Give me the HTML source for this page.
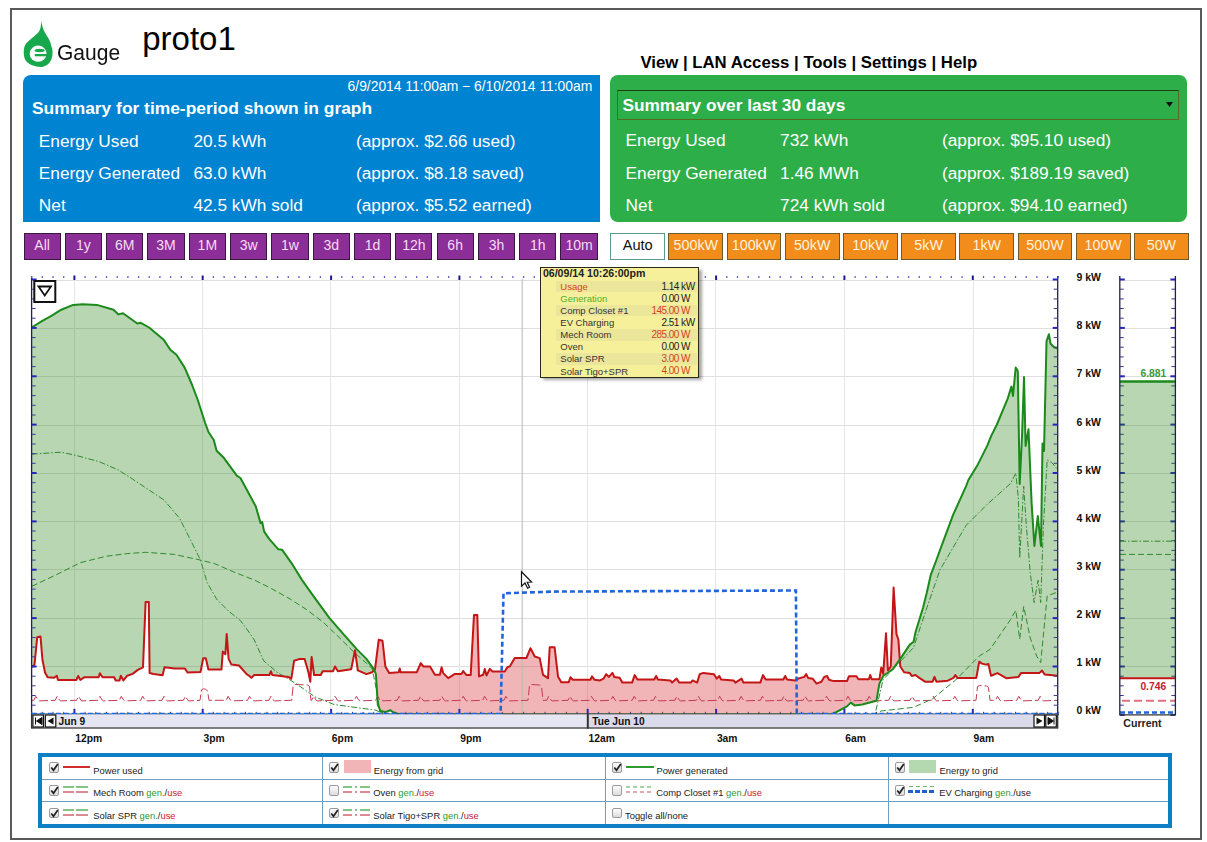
<!DOCTYPE html><html><head><meta charset="utf-8"><style>
html,body{margin:0;padding:0;background:#fff;width:1207px;height:842px;overflow:hidden;position:relative;font-family:"Liberation Sans",sans-serif}
.t{position:absolute;white-space:pre;line-height:1}
.a{position:absolute}
.pb{position:absolute;top:233px;height:26.6px;width:37.3px;background:#8b2e98;box-sizing:border-box;border:1px solid #3a1840;color:#f7dcf5;font-size:14px;text-align:center;line-height:23px}
.ob{position:absolute;top:233px;height:26.6px;width:54.8px;background:#f28d1c;box-sizing:border-box;border:1px solid #6f5a2c;color:#fff3dc;font-size:14.3px;text-align:center;line-height:23px}
</style></head><body>
<div class="a" style="left:10px;top:8px;width:1187.6px;height:828.3px;border:2px solid #5a5a5a"></div>
<svg class="a" style="left:0;top:0" width="130" height="75">
<path d="M41.3,20.4 C42,25 42.8,28 43.7,29.9 C45,33 46.5,35 47.8,37.3 C49.5,40 50.6,42.5 51.2,45.4 C52.3,48.5 52.7,50.5 52.5,52.9 C52.4,55.5 52.2,57 51.5,59 C50.7,61 49.8,62.5 48.4,63.7 C46.8,65.2 45.3,65.9 43.7,66.4 C42,66.9 40,67 38.3,66.8 C35.5,66.6 33.5,66 31.5,65.1 C29.3,64 27.4,62.7 26.1,61 C24.6,58.9 24,56.8 23.8,54.2 C23.6,51.5 23.8,49 24.4,46.8 C25.2,44.5 26.5,42.8 28.1,41.4 C30,39.6 31.8,38.2 33.6,36.7 C35.3,35.4 37,34 38.3,32.6 C39.3,31.3 39.9,30 40.3,28.5 C40.9,26 41.1,23.5 41.3,20.4 Z" fill="#17a84c"/>
<ellipse cx="38.1" cy="53.7" rx="8.4" ry="8.1" fill="#fff"/>
<ellipse cx="39.6" cy="50.5" rx="5" ry="1.7" fill="#17a84c"/>
<rect x="34.8" y="54" width="12.5" height="2.3" fill="#17a84c"/>
</svg>
<div class="t" style="left:56.5px;top:42.38px;font-size:22px;font-weight:400;color:#111;transform:scaleX(0.955);transform-origin:0 0">Gauge</div>
<div class="t" style="left:142.2px;top:22.17px;font-size:33px;font-weight:400;color:#000;">proto1</div>
<div class="t" style="left:640.4px;top:55.42px;font-size:16.75px;font-weight:700;color:#000;">View | LAN Access | Tools | Settings | Help</div>
<div class="a" style="left:23.4px;top:75.2px;width:576.6px;height:146.5px;background:#0083d1;border-top-left-radius:8px"></div>
<div class="t" style="left:347.6px;top:80.08px;font-size:13.85px;font-weight:400;color:#fff;">6/9/2014 11:00am − 6/10/2014 11:00am</div>
<div class="t" style="left:32px;top:100.27px;font-size:17.4px;font-weight:700;color:#fff;">Summary for time-period shown in graph</div>
<div class="t" style="left:38.8px;top:132.66px;font-size:17.3px;font-weight:400;color:#fff;">Energy Used</div>
<div class="t" style="left:193.4px;top:132.66px;font-size:17.3px;font-weight:400;color:#fff;">20.5 kWh</div>
<div class="t" style="left:356px;top:132.66px;font-size:17.3px;font-weight:400;color:#fff;">(approx. $2.66 used)</div>
<div class="t" style="left:38.8px;top:164.91px;font-size:17.3px;font-weight:400;color:#fff;">Energy Generated</div>
<div class="t" style="left:193.4px;top:164.91px;font-size:17.3px;font-weight:400;color:#fff;">63.0 kWh</div>
<div class="t" style="left:356px;top:164.91px;font-size:17.3px;font-weight:400;color:#fff;">(approx. $8.18 saved)</div>
<div class="t" style="left:38.8px;top:197.16px;font-size:17.3px;font-weight:400;color:#fff;">Net</div>
<div class="t" style="left:193.4px;top:197.16px;font-size:17.3px;font-weight:400;color:#fff;">42.5 kWh sold</div>
<div class="t" style="left:356px;top:197.16px;font-size:17.3px;font-weight:400;color:#fff;">(approx. $5.52 earned)</div>
<div class="a" style="left:610.2px;top:75px;width:576.6px;height:146.7px;background:#2eae48;border-radius:8px"></div>
<div class="a" style="left:617px;top:90.4px;width:562px;height:29.6px;box-sizing:border-box;border:1px solid #5a6a20;border-top-color:#1d3d10;border-left-color:#6a5a20"></div>
<div class="t" style="left:622.4px;top:96.56px;font-size:17.3px;font-weight:700;color:#fff;">Summary over last 30 days</div>
<svg class="a" style="left:1165px;top:100px" width="10" height="10"><path d="M1,2 L8,2 L4.5,7 Z" fill="#111"/></svg>
<div class="t" style="left:625.6px;top:132.36px;font-size:17.3px;font-weight:400;color:#fff;">Energy Used</div>
<div class="t" style="left:780.1px;top:132.36px;font-size:17.3px;font-weight:400;color:#fff;">732 kWh</div>
<div class="t" style="left:942px;top:132.36px;font-size:17.3px;font-weight:400;color:#fff;">(approx. $95.10 used)</div>
<div class="t" style="left:625.6px;top:164.66px;font-size:17.3px;font-weight:400;color:#fff;">Energy Generated</div>
<div class="t" style="left:780.1px;top:164.66px;font-size:17.3px;font-weight:400;color:#fff;">1.46 MWh</div>
<div class="t" style="left:942px;top:164.66px;font-size:17.3px;font-weight:400;color:#fff;">(approx. $189.19 saved)</div>
<div class="t" style="left:625.6px;top:196.96px;font-size:17.3px;font-weight:400;color:#fff;">Net</div>
<div class="t" style="left:780.1px;top:196.96px;font-size:17.3px;font-weight:400;color:#fff;">724 kWh sold</div>
<div class="t" style="left:942px;top:196.96px;font-size:17.3px;font-weight:400;color:#fff;">(approx. $94.10 earned)</div>
<div class="pb" style="left:23.5px">All</div>
<div class="pb" style="left:64.8px">1y</div>
<div class="pb" style="left:106.1px">6M</div>
<div class="pb" style="left:147.4px">3M</div>
<div class="pb" style="left:188.7px">1M</div>
<div class="pb" style="left:230.0px">3w</div>
<div class="pb" style="left:271.3px">1w</div>
<div class="pb" style="left:312.6px">3d</div>
<div class="pb" style="left:353.9px">1d</div>
<div class="pb" style="left:395.2px">12h</div>
<div class="pb" style="left:436.5px">6h</div>
<div class="pb" style="left:477.8px">3h</div>
<div class="pb" style="left:519.1px">1h</div>
<div class="pb" style="left:560.4px">10m</div>
<div class="a" style="left:610.4px;top:233px;width:54.6px;height:26.6px;box-sizing:border-box;border:1px solid #5c9a8c;background:#fff;color:#111;font-size:14.6px;text-align:center;line-height:23px">Auto</div>
<div class="ob" style="left:668.4px">500kW</div>
<div class="ob" style="left:726.6px">100kW</div>
<div class="ob" style="left:784.8px">50kW</div>
<div class="ob" style="left:843.0px">10kW</div>
<div class="ob" style="left:901.2px">5kW</div>
<div class="ob" style="left:959.4px">1kW</div>
<div class="ob" style="left:1017.6px">500W</div>
<div class="ob" style="left:1075.8px">100W</div>
<div class="ob" style="left:1134.0px">50W</div>
<svg width="1207" height="842" style="position:absolute;left:0;top:0">
<defs>
<clipPath id="aU"><path d="M31.8,667.3 L34.5,664.7 L37.2,637.3 L40.5,636.5 L42.4,659.5 L45.0,672.5 L47.6,677.3 L54.1,677.8 L56.8,675.7 L58.0,679.9 L76.4,679.9 L78.2,676.0 L80.3,679.9 L84.2,677.3 L98.6,677.3 L99.9,673.3 L102.5,677.3 L114.3,677.3 L115.6,680.4 L119.5,680.4 L120.8,675.7 L123.4,680.4 L127.3,675.7 L132.6,673.9 L137.8,669.9 L143.0,667.3 L145.6,602.0 L148.8,602.0 L149.6,673.1 L153.5,673.9 L162.6,675.2 L164.5,667.3 L174.4,668.6 L184.9,668.6 L187.5,672.5 L200.5,672.0 L203.2,658.2 L205.8,658.2 L208.4,669.4 L221.5,669.4 L222.8,651.6 L225.4,654.2 L226.7,634.1 L228.6,658.9 L231.4,664.6 L239.0,665.5 L246.6,674.1 L249.5,676.0 L251.4,677.9 L254.2,675.0 L269.4,675.0 L271.0,671.2 L272.3,675.0 L288.4,676.9 L291.3,678.8 L294.1,660.8 L299.8,658.9 L304.6,658.9 L308.4,672.2 L310.3,681.7 L311.6,657.0 L314.1,675.0 L320.8,675.0 L322.7,671.2 L333.1,671.2 L335.0,666.5 L337.9,671.2 L351.2,669.3 L355.0,650.3 L357.8,670.3 L366.4,674.1 L372.1,672.2 L375.0,669.3 L378.7,639.8 L382.5,640.8 L385.4,666.5 L389.2,673.1 L398.7,672.2 L399.7,668.4 L400.6,672.2 L410.0,672.3 L416.7,672.3 L420.8,663.1 L423.3,666.4 L430.0,666.4 L434.9,674.8 L439.9,674.8 L441.6,667.3 L443.2,673.1 L448.2,678.1 L454.9,673.9 L461.5,673.9 L463.2,671.1 L466.5,675.1 L470.7,675.1 L474.0,614.9 L477.3,614.9 L479.0,676.4 L483.2,674.8 L484.8,668.9 L486.5,675.6 L489.8,668.9 L492.3,671.4 L504.8,671.4 L507.3,667.3 L509.8,666.4 L514.7,658.1 L526.4,658.1 L530.5,648.2 L534.7,656.5 L539.7,658.1 L543.0,674.8 L548.0,678.1 L549.7,647.3 L554.6,647.3 L558.0,676.4 L561.3,682.2 L568.8,682.2 L570.4,677.3 L572.9,679.8 L590.4,679.8 L592.0,676.4 L594.5,679.8 L600.0,680.4 L603.6,678.6 L606.2,674.2 L608.9,676.9 L612.5,672.9 L614.2,676.9 L619.6,677.7 L622.3,682.6 L632.1,682.6 L634.7,675.1 L637.4,679.5 L654.3,679.5 L656.1,676.0 L657.9,679.5 L670.3,680.4 L672.1,682.6 L676.6,678.6 L679.3,682.6 L690.8,682.6 L692.6,680.4 L697.1,682.6 L699.7,674.2 L703.3,672.9 L714.0,674.2 L716.7,678.6 L719.3,676.0 L721.1,679.5 L733.6,680.4 L735.4,682.6 L741.6,678.6 L743.4,682.6 L760.3,682.6 L763.0,675.1 L765.6,679.5 L783.4,679.5 L785.2,676.0 L787.0,679.5 L795.0,680.4 L797.6,678.8 L804.3,676.9 L806.2,674.1 L808.1,677.9 L812.8,678.8 L816.6,683.6 L821.4,681.7 L824.2,676.9 L827.1,676.0 L829.0,679.8 L833.7,681.1 L847.0,681.1 L848.9,676.3 L856.5,676.3 L858.4,679.2 L868.9,679.2 L870.2,675.0 L871.7,679.2 L879.4,679.2 L881.3,667.4 L883.2,674.1 L886.0,633.2 L887.9,670.3 L890.8,666.5 L893.6,587.6 L896.5,634.1 L898.4,639.8 L900.3,666.5 L904.1,672.2 L909.8,673.1 L911.7,676.0 L915.5,675.0 L919.3,677.9 L925.0,681.7 L932.6,681.7 L934.5,676.9 L936.4,681.7 L947.8,680.7 L953.5,677.9 L955.4,675.0 L957.3,677.9 L976.3,677.9 L979.2,661.7 L982.0,663.6 L985.8,664.6 L988.4,663.9 L991.0,675.7 L997.5,673.1 L1006.7,678.3 L1018.4,677.0 L1021.0,673.1 L1039.3,673.1 L1042.0,670.5 L1044.6,674.4 L1057.7,675.7 L1057.7,270 L31.6,270 Z"/></clipPath>
<clipPath id="aG"><path d="M31.6,327.5 L42.3,320.9 L51.8,315.6 L61.3,309.7 L73.1,304.9 L82.6,304.2 L96.9,304.9 L113.5,309.7 L118.3,314.4 L123.0,313.3 L137.3,323.5 L140.8,322.8 L149.1,327.5 L163.4,339.4 L170.5,350.0 L176.5,354.8 L184.8,367.9 L191.9,384.5 L197.8,400.0 L205.0,422.5 L208.5,432.0 L213.8,440.0 L216.6,450.7 L223.8,457.8 L236.8,475.6 L240.4,478.0 L247.5,491.0 L255.8,506.5 L260.6,523.1 L262.2,522.0 L264.1,531.4 L268.9,538.6 L278.4,549.3 L282.0,549.7 L292.6,564.7 L302.1,580.1 L314.0,596.8 L329.5,618.1 L341.7,632.2 L356.9,649.4 L366.4,658.9 L374.0,669.3 L375.9,674.1 L377.8,704.5 L380.6,711.1 L385.4,712.1 L390.2,710.2 L393.0,712.1 L400.0,714.5 L419.6,714.5 L831.8,714.5 L847.0,706.4 L850.8,702.6 L854.6,705.4 L862.2,704.5 L876.5,700.7 L879.4,683.6 L883.2,676.0 L892.7,669.3 L900.3,658.9 L909.8,644.6 L913.6,641.7 L915.5,632.2 L923.1,607.5 L926.9,592.3 L930.7,575.2 L936.4,560.0 L940.0,550.2 L953.1,514.9 L966.1,486.1 L968.4,480.0 L977.9,464.4 L987.4,445.4 L991.2,435.9 L996.9,424.5 L1007.8,398.4 L1011.4,386.5 L1013.0,396.0 L1015.7,367.5 L1017.8,371.1 L1019.7,483.9 L1022.1,434.0 L1024.0,377.0 L1025.6,445.9 L1028.5,429.3 L1031.6,502.9 L1034.4,546.0 L1037.8,516.0 L1041.0,546.0 L1042.5,443.5 L1044.0,451.1 L1046.5,341.4 L1048.9,334.3 L1050.6,343.8 L1054.1,347.3 L1057.7,348.5 L1057.7,270 L31.6,270 Z"/></clipPath>
</defs>
<line x1="32" y1="666.5" x2="1057" y2="666.5" stroke="#dfdfdf" stroke-width="1"/>
<line x1="1120" y1="666.5" x2="1175" y2="666.5" stroke="#dfdfdf" stroke-width="1"/>
<line x1="32" y1="618.5" x2="1057" y2="618.5" stroke="#dfdfdf" stroke-width="1"/>
<line x1="1120" y1="618.5" x2="1175" y2="618.5" stroke="#dfdfdf" stroke-width="1"/>
<line x1="32" y1="569.5" x2="1057" y2="569.5" stroke="#dfdfdf" stroke-width="1"/>
<line x1="1120" y1="569.5" x2="1175" y2="569.5" stroke="#dfdfdf" stroke-width="1"/>
<line x1="32" y1="521.5" x2="1057" y2="521.5" stroke="#dfdfdf" stroke-width="1"/>
<line x1="1120" y1="521.5" x2="1175" y2="521.5" stroke="#dfdfdf" stroke-width="1"/>
<line x1="32" y1="473.5" x2="1057" y2="473.5" stroke="#dfdfdf" stroke-width="1"/>
<line x1="1120" y1="473.5" x2="1175" y2="473.5" stroke="#dfdfdf" stroke-width="1"/>
<line x1="32" y1="425.5" x2="1057" y2="425.5" stroke="#dfdfdf" stroke-width="1"/>
<line x1="1120" y1="425.5" x2="1175" y2="425.5" stroke="#dfdfdf" stroke-width="1"/>
<line x1="32" y1="376.5" x2="1057" y2="376.5" stroke="#dfdfdf" stroke-width="1"/>
<line x1="1120" y1="376.5" x2="1175" y2="376.5" stroke="#dfdfdf" stroke-width="1"/>
<line x1="32" y1="328.5" x2="1057" y2="328.5" stroke="#dfdfdf" stroke-width="1"/>
<line x1="1120" y1="328.5" x2="1175" y2="328.5" stroke="#dfdfdf" stroke-width="1"/>
<line x1="32" y1="280.5" x2="1057" y2="280.5" stroke="#dfdfdf" stroke-width="1"/>
<line x1="1120" y1="280.5" x2="1175" y2="280.5" stroke="#dfdfdf" stroke-width="1"/>
<line x1="74.5" y1="279" x2="74.5" y2="714.85" stroke="#e6e6e6" stroke-width="1"/>
<line x1="202.5" y1="279" x2="202.5" y2="714.85" stroke="#e6e6e6" stroke-width="1"/>
<line x1="330.5" y1="279" x2="330.5" y2="714.85" stroke="#e6e6e6" stroke-width="1"/>
<line x1="459.5" y1="279" x2="459.5" y2="714.85" stroke="#e6e6e6" stroke-width="1"/>
<line x1="587.5" y1="279" x2="587.5" y2="714.85" stroke="#e6e6e6" stroke-width="1"/>
<line x1="715.5" y1="279" x2="715.5" y2="714.85" stroke="#e6e6e6" stroke-width="1"/>
<line x1="844.5" y1="279" x2="844.5" y2="714.85" stroke="#e6e6e6" stroke-width="1"/>
<line x1="973.5" y1="279" x2="973.5" y2="714.85" stroke="#e6e6e6" stroke-width="1"/>
<path d="M31.6,327.5 L42.3,320.9 L51.8,315.6 L61.3,309.7 L73.1,304.9 L82.6,304.2 L96.9,304.9 L113.5,309.7 L118.3,314.4 L123.0,313.3 L137.3,323.5 L140.8,322.8 L149.1,327.5 L163.4,339.4 L170.5,350.0 L176.5,354.8 L184.8,367.9 L191.9,384.5 L197.8,400.0 L205.0,422.5 L208.5,432.0 L213.8,440.0 L216.6,450.7 L223.8,457.8 L236.8,475.6 L240.4,478.0 L247.5,491.0 L255.8,506.5 L260.6,523.1 L262.2,522.0 L264.1,531.4 L268.9,538.6 L278.4,549.3 L282.0,549.7 L292.6,564.7 L302.1,580.1 L314.0,596.8 L329.5,618.1 L341.7,632.2 L356.9,649.4 L366.4,658.9 L374.0,669.3 L375.9,674.1 L377.8,704.5 L380.6,711.1 L385.4,712.1 L390.2,710.2 L393.0,712.1 L400.0,714.5 L419.6,714.5 L831.8,714.5 L847.0,706.4 L850.8,702.6 L854.6,705.4 L862.2,704.5 L876.5,700.7 L879.4,683.6 L883.2,676.0 L892.7,669.3 L900.3,658.9 L909.8,644.6 L913.6,641.7 L915.5,632.2 L923.1,607.5 L926.9,592.3 L930.7,575.2 L936.4,560.0 L940.0,550.2 L953.1,514.9 L966.1,486.1 L968.4,480.0 L977.9,464.4 L987.4,445.4 L991.2,435.9 L996.9,424.5 L1007.8,398.4 L1011.4,386.5 L1013.0,396.0 L1015.7,367.5 L1017.8,371.1 L1019.7,483.9 L1022.1,434.0 L1024.0,377.0 L1025.6,445.9 L1028.5,429.3 L1031.6,502.9 L1034.4,546.0 L1037.8,516.0 L1041.0,546.0 L1042.5,443.5 L1044.0,451.1 L1046.5,341.4 L1048.9,334.3 L1050.6,343.8 L1054.1,347.3 L1057.7,348.5 L1057.7,714.85 L31.6,714.85 Z" fill="rgba(30,127,11,0.32)" clip-path="url(#aU)"/>
<path d="M31.8,667.3 L34.5,664.7 L37.2,637.3 L40.5,636.5 L42.4,659.5 L45.0,672.5 L47.6,677.3 L54.1,677.8 L56.8,675.7 L58.0,679.9 L76.4,679.9 L78.2,676.0 L80.3,679.9 L84.2,677.3 L98.6,677.3 L99.9,673.3 L102.5,677.3 L114.3,677.3 L115.6,680.4 L119.5,680.4 L120.8,675.7 L123.4,680.4 L127.3,675.7 L132.6,673.9 L137.8,669.9 L143.0,667.3 L145.6,602.0 L148.8,602.0 L149.6,673.1 L153.5,673.9 L162.6,675.2 L164.5,667.3 L174.4,668.6 L184.9,668.6 L187.5,672.5 L200.5,672.0 L203.2,658.2 L205.8,658.2 L208.4,669.4 L221.5,669.4 L222.8,651.6 L225.4,654.2 L226.7,634.1 L228.6,658.9 L231.4,664.6 L239.0,665.5 L246.6,674.1 L249.5,676.0 L251.4,677.9 L254.2,675.0 L269.4,675.0 L271.0,671.2 L272.3,675.0 L288.4,676.9 L291.3,678.8 L294.1,660.8 L299.8,658.9 L304.6,658.9 L308.4,672.2 L310.3,681.7 L311.6,657.0 L314.1,675.0 L320.8,675.0 L322.7,671.2 L333.1,671.2 L335.0,666.5 L337.9,671.2 L351.2,669.3 L355.0,650.3 L357.8,670.3 L366.4,674.1 L372.1,672.2 L375.0,669.3 L378.7,639.8 L382.5,640.8 L385.4,666.5 L389.2,673.1 L398.7,672.2 L399.7,668.4 L400.6,672.2 L410.0,672.3 L416.7,672.3 L420.8,663.1 L423.3,666.4 L430.0,666.4 L434.9,674.8 L439.9,674.8 L441.6,667.3 L443.2,673.1 L448.2,678.1 L454.9,673.9 L461.5,673.9 L463.2,671.1 L466.5,675.1 L470.7,675.1 L474.0,614.9 L477.3,614.9 L479.0,676.4 L483.2,674.8 L484.8,668.9 L486.5,675.6 L489.8,668.9 L492.3,671.4 L504.8,671.4 L507.3,667.3 L509.8,666.4 L514.7,658.1 L526.4,658.1 L530.5,648.2 L534.7,656.5 L539.7,658.1 L543.0,674.8 L548.0,678.1 L549.7,647.3 L554.6,647.3 L558.0,676.4 L561.3,682.2 L568.8,682.2 L570.4,677.3 L572.9,679.8 L590.4,679.8 L592.0,676.4 L594.5,679.8 L600.0,680.4 L603.6,678.6 L606.2,674.2 L608.9,676.9 L612.5,672.9 L614.2,676.9 L619.6,677.7 L622.3,682.6 L632.1,682.6 L634.7,675.1 L637.4,679.5 L654.3,679.5 L656.1,676.0 L657.9,679.5 L670.3,680.4 L672.1,682.6 L676.6,678.6 L679.3,682.6 L690.8,682.6 L692.6,680.4 L697.1,682.6 L699.7,674.2 L703.3,672.9 L714.0,674.2 L716.7,678.6 L719.3,676.0 L721.1,679.5 L733.6,680.4 L735.4,682.6 L741.6,678.6 L743.4,682.6 L760.3,682.6 L763.0,675.1 L765.6,679.5 L783.4,679.5 L785.2,676.0 L787.0,679.5 L795.0,680.4 L797.6,678.8 L804.3,676.9 L806.2,674.1 L808.1,677.9 L812.8,678.8 L816.6,683.6 L821.4,681.7 L824.2,676.9 L827.1,676.0 L829.0,679.8 L833.7,681.1 L847.0,681.1 L848.9,676.3 L856.5,676.3 L858.4,679.2 L868.9,679.2 L870.2,675.0 L871.7,679.2 L879.4,679.2 L881.3,667.4 L883.2,674.1 L886.0,633.2 L887.9,670.3 L890.8,666.5 L893.6,587.6 L896.5,634.1 L898.4,639.8 L900.3,666.5 L904.1,672.2 L909.8,673.1 L911.7,676.0 L915.5,675.0 L919.3,677.9 L925.0,681.7 L932.6,681.7 L934.5,676.9 L936.4,681.7 L947.8,680.7 L953.5,677.9 L955.4,675.0 L957.3,677.9 L976.3,677.9 L979.2,661.7 L982.0,663.6 L985.8,664.6 L988.4,663.9 L991.0,675.7 L997.5,673.1 L1006.7,678.3 L1018.4,677.0 L1021.0,673.1 L1039.3,673.1 L1042.0,670.5 L1044.6,674.4 L1057.7,675.7 L1057.7,714.85 L31.6,714.85 Z" fill="rgba(218,44,49,0.35)" clip-path="url(#aG)"/>
<line x1="522.2" y1="279" x2="522.2" y2="714.85" stroke="#b8b8b8" stroke-width="1"/>
<path d="M31.8,700.3 L33.8,700.3 L35.8,696.3 L38.3,700.3 L39.3,700.9 L55.2,700.3 L57.2,696.3 L59.7,700.3 L60.7,700.9 L76.5,700.3 L78.5,696.3 L81.0,700.3 L82.0,700.9 L97.9,700.3 L99.9,696.3 L102.4,700.3 L103.4,700.9 L119.3,700.3 L121.3,696.3 L123.8,700.3 L124.8,700.9 L140.7,700.3 L142.7,696.3 L145.2,700.3 L146.2,700.9 L162.0,700.3 L164.0,696.3 L166.5,700.3 L167.5,700.9 L183.4,700.3 L185.4,696.3 L187.9,700.3 L188.9,700.9 L200.0,700.3 L201.5,689.8 L203.5,688.8 L205.5,689.3 L207.5,690.8 L209.0,700.3 L226.1,700.3 L228.1,696.3 L230.6,700.3 L231.6,700.9 L247.5,700.3 L249.5,696.3 L252.0,700.3 L253.0,700.9 L268.9,700.3 L270.9,696.3 L273.4,700.3 L274.4,700.9 L291.7,700.3 L293.2,685.5 L295.2,684.5 L307.5,685.0 L309.5,686.5 L311.0,700.3 L311.6,700.3 L313.6,696.3 L316.1,700.3 L317.1,700.9 L333.0,700.3 L335.0,696.3 L337.5,700.3 L338.5,700.9 L354.4,700.3 L356.4,696.3 L358.9,700.3 L359.9,700.9 L375.7,700.3 L377.7,696.3 L380.2,700.3 L381.2,700.9 L397.1,700.3 L399.1,696.3 L401.6,700.3 L402.6,700.9 L418.5,700.3 L420.5,696.3 L423.0,700.3 L424.0,700.9 L439.8,700.3 L441.8,696.3 L444.3,700.3 L445.3,700.9 L461.2,700.3 L463.2,696.3 L465.7,700.3 L466.7,700.9 L482.6,700.3 L484.6,696.3 L487.1,700.3 L488.1,700.9 L503.9,700.3 L505.9,696.3 L508.4,700.3 L509.4,700.9 L528.0,700.3 L529.5,685.5 L531.5,684.5 L539.5,685.0 L541.5,686.5 L543.0,700.3 L546.7,700.3 L548.7,696.3 L551.2,700.3 L552.2,700.9 L568.0,700.3 L570.0,696.3 L572.5,700.3 L573.5,700.9 L589.4,700.3 L591.4,696.3 L593.9,700.3 L594.9,700.9 L610.8,700.3 L612.8,696.3 L615.3,700.3 L616.3,700.9 L632.2,700.3 L634.2,696.3 L636.7,700.3 L637.7,700.9 L653.5,700.3 L655.5,696.3 L658.0,700.3 L659.0,700.9 L674.9,700.3 L676.9,696.3 L679.4,700.3 L680.4,700.9 L696.3,700.3 L698.3,696.3 L700.8,700.3 L701.8,700.9 L717.6,700.3 L719.6,696.3 L722.1,700.3 L723.1,700.9 L739.0,700.3 L741.0,696.3 L743.5,700.3 L744.5,700.9 L760.4,700.3 L762.4,696.3 L764.9,700.3 L765.9,700.9 L781.8,700.3 L783.8,696.3 L786.2,700.3 L787.2,700.9 L803.1,700.3 L805.1,696.3 L807.6,700.3 L808.6,700.9 L824.5,700.3 L826.5,696.3 L829.0,700.3 L830.0,700.9 L845.9,700.3 L847.9,696.3 L850.4,700.3 L851.4,700.9 L867.2,700.3 L869.2,696.3 L871.7,700.3 L872.7,700.9 L888.6,700.3 L890.6,696.3 L893.1,700.3 L894.1,700.9 L910.0,700.3 L912.0,696.3 L914.5,700.3 L915.5,700.9 L931.3,700.3 L933.3,696.3 L935.8,700.3 L936.8,700.9 L952.7,700.3 L954.7,696.3 L957.2,700.3 L958.2,700.9 L976.0,700.3 L977.5,686.5 L979.5,685.5 L986.5,686.0 L988.5,687.5 L990.0,700.3 L995.5,700.3 L997.5,696.3 L1000.0,700.3 L1001.0,700.9 L1016.8,700.3 L1018.8,696.3 L1021.3,700.3 L1022.3,700.9 L1038.2,700.3 L1040.2,696.3 L1042.7,700.3 L1043.7,700.9 L1057.7,700.3" fill="none" stroke="#c43a52" stroke-width="1" stroke-dasharray="9,3"/>
<path d="M31.8,586.3 L54.1,575.8 L80.3,562.7 L106.4,556.2 L127.3,553.6 L145.6,552.3 L174.4,554.4 L200.5,560.1 L214.3,563.5 L233.3,571.8 L254.6,580.1 L271.3,588.5 L290.3,599.1 L306.9,609.8 L323.5,622.5 L337.8,636.1 L353.1,651.3 L372.1,668.4 L376.5,690.0 L380.0,712.0 L390.0,714.5 L875.0,714.5 L881.0,711.0 L913.6,707.3 L932.6,698.8 L955.7,680.0 L979.2,656.1 L990.0,649.4 L1010.6,619.5 L1015.8,610.3 L1019.7,639.1 L1023.7,606.4 L1030.2,637.8 L1036.7,656.1 L1040.7,662.6 L1047.2,596.0 L1057.6,592.0" fill="none" stroke="#2f8a2f" stroke-width="1" stroke-dasharray="6,3"/>
<path d="M31.8,454.1 L61.3,452.2 L75.5,455.3 L99.3,461.7 L118.3,470.0 L132.5,479.0 L164.0,500.0 L179.6,518.3 L190.1,539.2 L200.5,560.1 L207.1,582.5 L216.6,599.1 L228.5,611.0 L240.4,620.5 L247.5,630.0 L254.2,639.8 L263.7,660.8 L277.0,672.2 L296.0,683.6 L315.0,696.9 L334.1,704.5 L375.9,710.2 L385.0,714.5 L875.0,714.5 L883.0,679.8 L913.6,647.5 L926.9,607.5 L940.0,569.8 L966.1,525.4 L987.1,504.4 L1010.6,483.5 L1015.8,473.1 L1018.4,499.2 L1019.7,558.0 L1023.7,486.1 L1026.3,525.4 L1030.2,572.4 L1034.1,602.5 L1038.0,580.3 L1040.7,602.5 L1043.3,528.0 L1047.2,460.0 L1051.8,462.5 L1057.7,469.6" fill="none" stroke="#2f8a2f" stroke-width="1" stroke-dasharray="6,2,1.5,2"/>
<path d="M31.8,667.3 L34.5,664.7 L37.2,637.3 L40.5,636.5 L42.4,659.5 L45.0,672.5 L47.6,677.3 L54.1,677.8 L56.8,675.7 L58.0,679.9 L76.4,679.9 L78.2,676.0 L80.3,679.9 L84.2,677.3 L98.6,677.3 L99.9,673.3 L102.5,677.3 L114.3,677.3 L115.6,680.4 L119.5,680.4 L120.8,675.7 L123.4,680.4 L127.3,675.7 L132.6,673.9 L137.8,669.9 L143.0,667.3 L145.6,602.0 L148.8,602.0 L149.6,673.1 L153.5,673.9 L162.6,675.2 L164.5,667.3 L174.4,668.6 L184.9,668.6 L187.5,672.5 L200.5,672.0 L203.2,658.2 L205.8,658.2 L208.4,669.4 L221.5,669.4 L222.8,651.6 L225.4,654.2 L226.7,634.1 L228.6,658.9 L231.4,664.6 L239.0,665.5 L246.6,674.1 L249.5,676.0 L251.4,677.9 L254.2,675.0 L269.4,675.0 L271.0,671.2 L272.3,675.0 L288.4,676.9 L291.3,678.8 L294.1,660.8 L299.8,658.9 L304.6,658.9 L308.4,672.2 L310.3,681.7 L311.6,657.0 L314.1,675.0 L320.8,675.0 L322.7,671.2 L333.1,671.2 L335.0,666.5 L337.9,671.2 L351.2,669.3 L355.0,650.3 L357.8,670.3 L366.4,674.1 L372.1,672.2 L375.0,669.3 L378.7,639.8 L382.5,640.8 L385.4,666.5 L389.2,673.1 L398.7,672.2 L399.7,668.4 L400.6,672.2 L410.0,672.3 L416.7,672.3 L420.8,663.1 L423.3,666.4 L430.0,666.4 L434.9,674.8 L439.9,674.8 L441.6,667.3 L443.2,673.1 L448.2,678.1 L454.9,673.9 L461.5,673.9 L463.2,671.1 L466.5,675.1 L470.7,675.1 L474.0,614.9 L477.3,614.9 L479.0,676.4 L483.2,674.8 L484.8,668.9 L486.5,675.6 L489.8,668.9 L492.3,671.4 L504.8,671.4 L507.3,667.3 L509.8,666.4 L514.7,658.1 L526.4,658.1 L530.5,648.2 L534.7,656.5 L539.7,658.1 L543.0,674.8 L548.0,678.1 L549.7,647.3 L554.6,647.3 L558.0,676.4 L561.3,682.2 L568.8,682.2 L570.4,677.3 L572.9,679.8 L590.4,679.8 L592.0,676.4 L594.5,679.8 L600.0,680.4 L603.6,678.6 L606.2,674.2 L608.9,676.9 L612.5,672.9 L614.2,676.9 L619.6,677.7 L622.3,682.6 L632.1,682.6 L634.7,675.1 L637.4,679.5 L654.3,679.5 L656.1,676.0 L657.9,679.5 L670.3,680.4 L672.1,682.6 L676.6,678.6 L679.3,682.6 L690.8,682.6 L692.6,680.4 L697.1,682.6 L699.7,674.2 L703.3,672.9 L714.0,674.2 L716.7,678.6 L719.3,676.0 L721.1,679.5 L733.6,680.4 L735.4,682.6 L741.6,678.6 L743.4,682.6 L760.3,682.6 L763.0,675.1 L765.6,679.5 L783.4,679.5 L785.2,676.0 L787.0,679.5 L795.0,680.4 L797.6,678.8 L804.3,676.9 L806.2,674.1 L808.1,677.9 L812.8,678.8 L816.6,683.6 L821.4,681.7 L824.2,676.9 L827.1,676.0 L829.0,679.8 L833.7,681.1 L847.0,681.1 L848.9,676.3 L856.5,676.3 L858.4,679.2 L868.9,679.2 L870.2,675.0 L871.7,679.2 L879.4,679.2 L881.3,667.4 L883.2,674.1 L886.0,633.2 L887.9,670.3 L890.8,666.5 L893.6,587.6 L896.5,634.1 L898.4,639.8 L900.3,666.5 L904.1,672.2 L909.8,673.1 L911.7,676.0 L915.5,675.0 L919.3,677.9 L925.0,681.7 L932.6,681.7 L934.5,676.9 L936.4,681.7 L947.8,680.7 L953.5,677.9 L955.4,675.0 L957.3,677.9 L976.3,677.9 L979.2,661.7 L982.0,663.6 L985.8,664.6 L988.4,663.9 L991.0,675.7 L997.5,673.1 L1006.7,678.3 L1018.4,677.0 L1021.0,673.1 L1039.3,673.1 L1042.0,670.5 L1044.6,674.4 L1057.7,675.7" fill="none" stroke="#c41616" stroke-width="2" stroke-linejoin="round"/>
<path d="M31.6,327.5 L42.3,320.9 L51.8,315.6 L61.3,309.7 L73.1,304.9 L82.6,304.2 L96.9,304.9 L113.5,309.7 L118.3,314.4 L123.0,313.3 L137.3,323.5 L140.8,322.8 L149.1,327.5 L163.4,339.4 L170.5,350.0 L176.5,354.8 L184.8,367.9 L191.9,384.5 L197.8,400.0 L205.0,422.5 L208.5,432.0 L213.8,440.0 L216.6,450.7 L223.8,457.8 L236.8,475.6 L240.4,478.0 L247.5,491.0 L255.8,506.5 L260.6,523.1 L262.2,522.0 L264.1,531.4 L268.9,538.6 L278.4,549.3 L282.0,549.7 L292.6,564.7 L302.1,580.1 L314.0,596.8 L329.5,618.1 L341.7,632.2 L356.9,649.4 L366.4,658.9 L374.0,669.3 L375.9,674.1 L377.8,704.5 L380.6,711.1 L385.4,712.1 L390.2,710.2 L393.0,712.1 L400.0,714.5 L419.6,714.5 L831.8,714.5 L847.0,706.4 L850.8,702.6 L854.6,705.4 L862.2,704.5 L876.5,700.7 L879.4,683.6 L883.2,676.0 L892.7,669.3 L900.3,658.9 L909.8,644.6 L913.6,641.7 L915.5,632.2 L923.1,607.5 L926.9,592.3 L930.7,575.2 L936.4,560.0 L940.0,550.2 L953.1,514.9 L966.1,486.1 L968.4,480.0 L977.9,464.4 L987.4,445.4 L991.2,435.9 L996.9,424.5 L1007.8,398.4 L1011.4,386.5 L1013.0,396.0 L1015.7,367.5 L1017.8,371.1 L1019.7,483.9 L1022.1,434.0 L1024.0,377.0 L1025.6,445.9 L1028.5,429.3 L1031.6,502.9 L1034.4,546.0 L1037.8,516.0 L1041.0,546.0 L1042.5,443.5 L1044.0,451.1 L1046.5,341.4 L1048.9,334.3 L1050.6,343.8 L1054.1,347.3 L1057.7,348.5" fill="none" stroke="#1b8a1b" stroke-width="2" stroke-linejoin="round"/>
<line x1="31.6" y1="276" x2="31.6" y2="715.35" stroke="#222244" stroke-width="1.3"/>
<line x1="1057.7" y1="276" x2="1057.7" y2="715.35" stroke="#222244" stroke-width="1.3"/>
<line x1="31.6" y1="714.9" x2="36.6" y2="714.9" stroke="#2525c0" stroke-width="2"/>
<line x1="1057.7" y1="714.9" x2="1052.7" y2="714.9" stroke="#2525c0" stroke-width="2"/>
<line x1="1119.8" y1="714.9" x2="1124.8" y2="714.9" stroke="#2525c0" stroke-width="2"/>
<line x1="1175.4" y1="714.9" x2="1170.4" y2="714.9" stroke="#2525c0" stroke-width="2"/>
<line x1="31.6" y1="705.2" x2="35.6" y2="705.2" stroke="#3a3a9a" stroke-width="1"/>
<line x1="1057.7" y1="705.2" x2="1053.7" y2="705.2" stroke="#3a3a9a" stroke-width="1"/>
<line x1="1119.8" y1="705.2" x2="1123.8" y2="705.2" stroke="#3a3a9a" stroke-width="1"/>
<line x1="1175.4" y1="705.2" x2="1171.4" y2="705.2" stroke="#3a3a9a" stroke-width="1"/>
<line x1="31.6" y1="695.5" x2="35.6" y2="695.5" stroke="#3a3a9a" stroke-width="1"/>
<line x1="1057.7" y1="695.5" x2="1053.7" y2="695.5" stroke="#3a3a9a" stroke-width="1"/>
<line x1="1119.8" y1="695.5" x2="1123.8" y2="695.5" stroke="#3a3a9a" stroke-width="1"/>
<line x1="1175.4" y1="695.5" x2="1171.4" y2="695.5" stroke="#3a3a9a" stroke-width="1"/>
<line x1="31.6" y1="685.8" x2="35.6" y2="685.8" stroke="#3a3a9a" stroke-width="1"/>
<line x1="1057.7" y1="685.8" x2="1053.7" y2="685.8" stroke="#3a3a9a" stroke-width="1"/>
<line x1="1119.8" y1="685.8" x2="1123.8" y2="685.8" stroke="#3a3a9a" stroke-width="1"/>
<line x1="1175.4" y1="685.8" x2="1171.4" y2="685.8" stroke="#3a3a9a" stroke-width="1"/>
<line x1="31.6" y1="676.2" x2="35.6" y2="676.2" stroke="#3a3a9a" stroke-width="1"/>
<line x1="1057.7" y1="676.2" x2="1053.7" y2="676.2" stroke="#3a3a9a" stroke-width="1"/>
<line x1="1119.8" y1="676.2" x2="1123.8" y2="676.2" stroke="#3a3a9a" stroke-width="1"/>
<line x1="1175.4" y1="676.2" x2="1171.4" y2="676.2" stroke="#3a3a9a" stroke-width="1"/>
<line x1="31.6" y1="666.5" x2="36.6" y2="666.5" stroke="#2525c0" stroke-width="2"/>
<line x1="1057.7" y1="666.5" x2="1052.7" y2="666.5" stroke="#2525c0" stroke-width="2"/>
<line x1="1119.8" y1="666.5" x2="1124.8" y2="666.5" stroke="#2525c0" stroke-width="2"/>
<line x1="1175.4" y1="666.5" x2="1170.4" y2="666.5" stroke="#2525c0" stroke-width="2"/>
<line x1="31.6" y1="656.8" x2="35.6" y2="656.8" stroke="#3a3a9a" stroke-width="1"/>
<line x1="1057.7" y1="656.8" x2="1053.7" y2="656.8" stroke="#3a3a9a" stroke-width="1"/>
<line x1="1119.8" y1="656.8" x2="1123.8" y2="656.8" stroke="#3a3a9a" stroke-width="1"/>
<line x1="1175.4" y1="656.8" x2="1171.4" y2="656.8" stroke="#3a3a9a" stroke-width="1"/>
<line x1="31.6" y1="647.1" x2="35.6" y2="647.1" stroke="#3a3a9a" stroke-width="1"/>
<line x1="1057.7" y1="647.1" x2="1053.7" y2="647.1" stroke="#3a3a9a" stroke-width="1"/>
<line x1="1119.8" y1="647.1" x2="1123.8" y2="647.1" stroke="#3a3a9a" stroke-width="1"/>
<line x1="1175.4" y1="647.1" x2="1171.4" y2="647.1" stroke="#3a3a9a" stroke-width="1"/>
<line x1="31.6" y1="637.5" x2="35.6" y2="637.5" stroke="#3a3a9a" stroke-width="1"/>
<line x1="1057.7" y1="637.5" x2="1053.7" y2="637.5" stroke="#3a3a9a" stroke-width="1"/>
<line x1="1119.8" y1="637.5" x2="1123.8" y2="637.5" stroke="#3a3a9a" stroke-width="1"/>
<line x1="1175.4" y1="637.5" x2="1171.4" y2="637.5" stroke="#3a3a9a" stroke-width="1"/>
<line x1="31.6" y1="627.8" x2="35.6" y2="627.8" stroke="#3a3a9a" stroke-width="1"/>
<line x1="1057.7" y1="627.8" x2="1053.7" y2="627.8" stroke="#3a3a9a" stroke-width="1"/>
<line x1="1119.8" y1="627.8" x2="1123.8" y2="627.8" stroke="#3a3a9a" stroke-width="1"/>
<line x1="1175.4" y1="627.8" x2="1171.4" y2="627.8" stroke="#3a3a9a" stroke-width="1"/>
<line x1="31.6" y1="618.1" x2="36.6" y2="618.1" stroke="#2525c0" stroke-width="2"/>
<line x1="1057.7" y1="618.1" x2="1052.7" y2="618.1" stroke="#2525c0" stroke-width="2"/>
<line x1="1119.8" y1="618.1" x2="1124.8" y2="618.1" stroke="#2525c0" stroke-width="2"/>
<line x1="1175.4" y1="618.1" x2="1170.4" y2="618.1" stroke="#2525c0" stroke-width="2"/>
<line x1="31.6" y1="608.4" x2="35.6" y2="608.4" stroke="#3a3a9a" stroke-width="1"/>
<line x1="1057.7" y1="608.4" x2="1053.7" y2="608.4" stroke="#3a3a9a" stroke-width="1"/>
<line x1="1119.8" y1="608.4" x2="1123.8" y2="608.4" stroke="#3a3a9a" stroke-width="1"/>
<line x1="1175.4" y1="608.4" x2="1171.4" y2="608.4" stroke="#3a3a9a" stroke-width="1"/>
<line x1="31.6" y1="598.8" x2="35.6" y2="598.8" stroke="#3a3a9a" stroke-width="1"/>
<line x1="1057.7" y1="598.8" x2="1053.7" y2="598.8" stroke="#3a3a9a" stroke-width="1"/>
<line x1="1119.8" y1="598.8" x2="1123.8" y2="598.8" stroke="#3a3a9a" stroke-width="1"/>
<line x1="1175.4" y1="598.8" x2="1171.4" y2="598.8" stroke="#3a3a9a" stroke-width="1"/>
<line x1="31.6" y1="589.1" x2="35.6" y2="589.1" stroke="#3a3a9a" stroke-width="1"/>
<line x1="1057.7" y1="589.1" x2="1053.7" y2="589.1" stroke="#3a3a9a" stroke-width="1"/>
<line x1="1119.8" y1="589.1" x2="1123.8" y2="589.1" stroke="#3a3a9a" stroke-width="1"/>
<line x1="1175.4" y1="589.1" x2="1171.4" y2="589.1" stroke="#3a3a9a" stroke-width="1"/>
<line x1="31.6" y1="579.4" x2="35.6" y2="579.4" stroke="#3a3a9a" stroke-width="1"/>
<line x1="1057.7" y1="579.4" x2="1053.7" y2="579.4" stroke="#3a3a9a" stroke-width="1"/>
<line x1="1119.8" y1="579.4" x2="1123.8" y2="579.4" stroke="#3a3a9a" stroke-width="1"/>
<line x1="1175.4" y1="579.4" x2="1171.4" y2="579.4" stroke="#3a3a9a" stroke-width="1"/>
<line x1="31.6" y1="569.7" x2="36.6" y2="569.7" stroke="#2525c0" stroke-width="2"/>
<line x1="1057.7" y1="569.7" x2="1052.7" y2="569.7" stroke="#2525c0" stroke-width="2"/>
<line x1="1119.8" y1="569.7" x2="1124.8" y2="569.7" stroke="#2525c0" stroke-width="2"/>
<line x1="1175.4" y1="569.7" x2="1170.4" y2="569.7" stroke="#2525c0" stroke-width="2"/>
<line x1="31.6" y1="560.1" x2="35.6" y2="560.1" stroke="#3a3a9a" stroke-width="1"/>
<line x1="1057.7" y1="560.1" x2="1053.7" y2="560.1" stroke="#3a3a9a" stroke-width="1"/>
<line x1="1119.8" y1="560.1" x2="1123.8" y2="560.1" stroke="#3a3a9a" stroke-width="1"/>
<line x1="1175.4" y1="560.1" x2="1171.4" y2="560.1" stroke="#3a3a9a" stroke-width="1"/>
<line x1="31.6" y1="550.4" x2="35.6" y2="550.4" stroke="#3a3a9a" stroke-width="1"/>
<line x1="1057.7" y1="550.4" x2="1053.7" y2="550.4" stroke="#3a3a9a" stroke-width="1"/>
<line x1="1119.8" y1="550.4" x2="1123.8" y2="550.4" stroke="#3a3a9a" stroke-width="1"/>
<line x1="1175.4" y1="550.4" x2="1171.4" y2="550.4" stroke="#3a3a9a" stroke-width="1"/>
<line x1="31.6" y1="540.7" x2="35.6" y2="540.7" stroke="#3a3a9a" stroke-width="1"/>
<line x1="1057.7" y1="540.7" x2="1053.7" y2="540.7" stroke="#3a3a9a" stroke-width="1"/>
<line x1="1119.8" y1="540.7" x2="1123.8" y2="540.7" stroke="#3a3a9a" stroke-width="1"/>
<line x1="1175.4" y1="540.7" x2="1171.4" y2="540.7" stroke="#3a3a9a" stroke-width="1"/>
<line x1="31.6" y1="531.0" x2="35.6" y2="531.0" stroke="#3a3a9a" stroke-width="1"/>
<line x1="1057.7" y1="531.0" x2="1053.7" y2="531.0" stroke="#3a3a9a" stroke-width="1"/>
<line x1="1119.8" y1="531.0" x2="1123.8" y2="531.0" stroke="#3a3a9a" stroke-width="1"/>
<line x1="1175.4" y1="531.0" x2="1171.4" y2="531.0" stroke="#3a3a9a" stroke-width="1"/>
<line x1="31.6" y1="521.4" x2="36.6" y2="521.4" stroke="#2525c0" stroke-width="2"/>
<line x1="1057.7" y1="521.4" x2="1052.7" y2="521.4" stroke="#2525c0" stroke-width="2"/>
<line x1="1119.8" y1="521.4" x2="1124.8" y2="521.4" stroke="#2525c0" stroke-width="2"/>
<line x1="1175.4" y1="521.4" x2="1170.4" y2="521.4" stroke="#2525c0" stroke-width="2"/>
<line x1="31.6" y1="511.7" x2="35.6" y2="511.7" stroke="#3a3a9a" stroke-width="1"/>
<line x1="1057.7" y1="511.7" x2="1053.7" y2="511.7" stroke="#3a3a9a" stroke-width="1"/>
<line x1="1119.8" y1="511.7" x2="1123.8" y2="511.7" stroke="#3a3a9a" stroke-width="1"/>
<line x1="1175.4" y1="511.7" x2="1171.4" y2="511.7" stroke="#3a3a9a" stroke-width="1"/>
<line x1="31.6" y1="502.0" x2="35.6" y2="502.0" stroke="#3a3a9a" stroke-width="1"/>
<line x1="1057.7" y1="502.0" x2="1053.7" y2="502.0" stroke="#3a3a9a" stroke-width="1"/>
<line x1="1119.8" y1="502.0" x2="1123.8" y2="502.0" stroke="#3a3a9a" stroke-width="1"/>
<line x1="1175.4" y1="502.0" x2="1171.4" y2="502.0" stroke="#3a3a9a" stroke-width="1"/>
<line x1="31.6" y1="492.3" x2="35.6" y2="492.3" stroke="#3a3a9a" stroke-width="1"/>
<line x1="1057.7" y1="492.3" x2="1053.7" y2="492.3" stroke="#3a3a9a" stroke-width="1"/>
<line x1="1119.8" y1="492.3" x2="1123.8" y2="492.3" stroke="#3a3a9a" stroke-width="1"/>
<line x1="1175.4" y1="492.3" x2="1171.4" y2="492.3" stroke="#3a3a9a" stroke-width="1"/>
<line x1="31.6" y1="482.7" x2="35.6" y2="482.7" stroke="#3a3a9a" stroke-width="1"/>
<line x1="1057.7" y1="482.7" x2="1053.7" y2="482.7" stroke="#3a3a9a" stroke-width="1"/>
<line x1="1119.8" y1="482.7" x2="1123.8" y2="482.7" stroke="#3a3a9a" stroke-width="1"/>
<line x1="1175.4" y1="482.7" x2="1171.4" y2="482.7" stroke="#3a3a9a" stroke-width="1"/>
<line x1="31.6" y1="473.0" x2="36.6" y2="473.0" stroke="#2525c0" stroke-width="2"/>
<line x1="1057.7" y1="473.0" x2="1052.7" y2="473.0" stroke="#2525c0" stroke-width="2"/>
<line x1="1119.8" y1="473.0" x2="1124.8" y2="473.0" stroke="#2525c0" stroke-width="2"/>
<line x1="1175.4" y1="473.0" x2="1170.4" y2="473.0" stroke="#2525c0" stroke-width="2"/>
<line x1="31.6" y1="463.3" x2="35.6" y2="463.3" stroke="#3a3a9a" stroke-width="1"/>
<line x1="1057.7" y1="463.3" x2="1053.7" y2="463.3" stroke="#3a3a9a" stroke-width="1"/>
<line x1="1119.8" y1="463.3" x2="1123.8" y2="463.3" stroke="#3a3a9a" stroke-width="1"/>
<line x1="1175.4" y1="463.3" x2="1171.4" y2="463.3" stroke="#3a3a9a" stroke-width="1"/>
<line x1="31.6" y1="453.7" x2="35.6" y2="453.7" stroke="#3a3a9a" stroke-width="1"/>
<line x1="1057.7" y1="453.7" x2="1053.7" y2="453.7" stroke="#3a3a9a" stroke-width="1"/>
<line x1="1119.8" y1="453.7" x2="1123.8" y2="453.7" stroke="#3a3a9a" stroke-width="1"/>
<line x1="1175.4" y1="453.7" x2="1171.4" y2="453.7" stroke="#3a3a9a" stroke-width="1"/>
<line x1="31.6" y1="444.0" x2="35.6" y2="444.0" stroke="#3a3a9a" stroke-width="1"/>
<line x1="1057.7" y1="444.0" x2="1053.7" y2="444.0" stroke="#3a3a9a" stroke-width="1"/>
<line x1="1119.8" y1="444.0" x2="1123.8" y2="444.0" stroke="#3a3a9a" stroke-width="1"/>
<line x1="1175.4" y1="444.0" x2="1171.4" y2="444.0" stroke="#3a3a9a" stroke-width="1"/>
<line x1="31.6" y1="434.3" x2="35.6" y2="434.3" stroke="#3a3a9a" stroke-width="1"/>
<line x1="1057.7" y1="434.3" x2="1053.7" y2="434.3" stroke="#3a3a9a" stroke-width="1"/>
<line x1="1119.8" y1="434.3" x2="1123.8" y2="434.3" stroke="#3a3a9a" stroke-width="1"/>
<line x1="1175.4" y1="434.3" x2="1171.4" y2="434.3" stroke="#3a3a9a" stroke-width="1"/>
<line x1="31.6" y1="424.6" x2="36.6" y2="424.6" stroke="#2525c0" stroke-width="2"/>
<line x1="1057.7" y1="424.6" x2="1052.7" y2="424.6" stroke="#2525c0" stroke-width="2"/>
<line x1="1119.8" y1="424.6" x2="1124.8" y2="424.6" stroke="#2525c0" stroke-width="2"/>
<line x1="1175.4" y1="424.6" x2="1170.4" y2="424.6" stroke="#2525c0" stroke-width="2"/>
<line x1="31.6" y1="415.0" x2="35.6" y2="415.0" stroke="#3a3a9a" stroke-width="1"/>
<line x1="1057.7" y1="415.0" x2="1053.7" y2="415.0" stroke="#3a3a9a" stroke-width="1"/>
<line x1="1119.8" y1="415.0" x2="1123.8" y2="415.0" stroke="#3a3a9a" stroke-width="1"/>
<line x1="1175.4" y1="415.0" x2="1171.4" y2="415.0" stroke="#3a3a9a" stroke-width="1"/>
<line x1="31.6" y1="405.3" x2="35.6" y2="405.3" stroke="#3a3a9a" stroke-width="1"/>
<line x1="1057.7" y1="405.3" x2="1053.7" y2="405.3" stroke="#3a3a9a" stroke-width="1"/>
<line x1="1119.8" y1="405.3" x2="1123.8" y2="405.3" stroke="#3a3a9a" stroke-width="1"/>
<line x1="1175.4" y1="405.3" x2="1171.4" y2="405.3" stroke="#3a3a9a" stroke-width="1"/>
<line x1="31.6" y1="395.6" x2="35.6" y2="395.6" stroke="#3a3a9a" stroke-width="1"/>
<line x1="1057.7" y1="395.6" x2="1053.7" y2="395.6" stroke="#3a3a9a" stroke-width="1"/>
<line x1="1119.8" y1="395.6" x2="1123.8" y2="395.6" stroke="#3a3a9a" stroke-width="1"/>
<line x1="1175.4" y1="395.6" x2="1171.4" y2="395.6" stroke="#3a3a9a" stroke-width="1"/>
<line x1="31.6" y1="385.9" x2="35.6" y2="385.9" stroke="#3a3a9a" stroke-width="1"/>
<line x1="1057.7" y1="385.9" x2="1053.7" y2="385.9" stroke="#3a3a9a" stroke-width="1"/>
<line x1="1119.8" y1="385.9" x2="1123.8" y2="385.9" stroke="#3a3a9a" stroke-width="1"/>
<line x1="1175.4" y1="385.9" x2="1171.4" y2="385.9" stroke="#3a3a9a" stroke-width="1"/>
<line x1="31.6" y1="376.3" x2="36.6" y2="376.3" stroke="#2525c0" stroke-width="2"/>
<line x1="1057.7" y1="376.3" x2="1052.7" y2="376.3" stroke="#2525c0" stroke-width="2"/>
<line x1="1119.8" y1="376.3" x2="1124.8" y2="376.3" stroke="#2525c0" stroke-width="2"/>
<line x1="1175.4" y1="376.3" x2="1170.4" y2="376.3" stroke="#2525c0" stroke-width="2"/>
<line x1="31.6" y1="366.6" x2="35.6" y2="366.6" stroke="#3a3a9a" stroke-width="1"/>
<line x1="1057.7" y1="366.6" x2="1053.7" y2="366.6" stroke="#3a3a9a" stroke-width="1"/>
<line x1="1119.8" y1="366.6" x2="1123.8" y2="366.6" stroke="#3a3a9a" stroke-width="1"/>
<line x1="1175.4" y1="366.6" x2="1171.4" y2="366.6" stroke="#3a3a9a" stroke-width="1"/>
<line x1="31.6" y1="356.9" x2="35.6" y2="356.9" stroke="#3a3a9a" stroke-width="1"/>
<line x1="1057.7" y1="356.9" x2="1053.7" y2="356.9" stroke="#3a3a9a" stroke-width="1"/>
<line x1="1119.8" y1="356.9" x2="1123.8" y2="356.9" stroke="#3a3a9a" stroke-width="1"/>
<line x1="1175.4" y1="356.9" x2="1171.4" y2="356.9" stroke="#3a3a9a" stroke-width="1"/>
<line x1="31.6" y1="347.2" x2="35.6" y2="347.2" stroke="#3a3a9a" stroke-width="1"/>
<line x1="1057.7" y1="347.2" x2="1053.7" y2="347.2" stroke="#3a3a9a" stroke-width="1"/>
<line x1="1119.8" y1="347.2" x2="1123.8" y2="347.2" stroke="#3a3a9a" stroke-width="1"/>
<line x1="1175.4" y1="347.2" x2="1171.4" y2="347.2" stroke="#3a3a9a" stroke-width="1"/>
<line x1="31.6" y1="337.6" x2="35.6" y2="337.6" stroke="#3a3a9a" stroke-width="1"/>
<line x1="1057.7" y1="337.6" x2="1053.7" y2="337.6" stroke="#3a3a9a" stroke-width="1"/>
<line x1="1119.8" y1="337.6" x2="1123.8" y2="337.6" stroke="#3a3a9a" stroke-width="1"/>
<line x1="1175.4" y1="337.6" x2="1171.4" y2="337.6" stroke="#3a3a9a" stroke-width="1"/>
<line x1="31.6" y1="327.9" x2="36.6" y2="327.9" stroke="#2525c0" stroke-width="2"/>
<line x1="1057.7" y1="327.9" x2="1052.7" y2="327.9" stroke="#2525c0" stroke-width="2"/>
<line x1="1119.8" y1="327.9" x2="1124.8" y2="327.9" stroke="#2525c0" stroke-width="2"/>
<line x1="1175.4" y1="327.9" x2="1170.4" y2="327.9" stroke="#2525c0" stroke-width="2"/>
<line x1="31.6" y1="318.2" x2="35.6" y2="318.2" stroke="#3a3a9a" stroke-width="1"/>
<line x1="1057.7" y1="318.2" x2="1053.7" y2="318.2" stroke="#3a3a9a" stroke-width="1"/>
<line x1="1119.8" y1="318.2" x2="1123.8" y2="318.2" stroke="#3a3a9a" stroke-width="1"/>
<line x1="1175.4" y1="318.2" x2="1171.4" y2="318.2" stroke="#3a3a9a" stroke-width="1"/>
<line x1="31.6" y1="308.5" x2="35.6" y2="308.5" stroke="#3a3a9a" stroke-width="1"/>
<line x1="1057.7" y1="308.5" x2="1053.7" y2="308.5" stroke="#3a3a9a" stroke-width="1"/>
<line x1="1119.8" y1="308.5" x2="1123.8" y2="308.5" stroke="#3a3a9a" stroke-width="1"/>
<line x1="1175.4" y1="308.5" x2="1171.4" y2="308.5" stroke="#3a3a9a" stroke-width="1"/>
<line x1="31.6" y1="298.9" x2="35.6" y2="298.9" stroke="#3a3a9a" stroke-width="1"/>
<line x1="1057.7" y1="298.9" x2="1053.7" y2="298.9" stroke="#3a3a9a" stroke-width="1"/>
<line x1="1119.8" y1="298.9" x2="1123.8" y2="298.9" stroke="#3a3a9a" stroke-width="1"/>
<line x1="1175.4" y1="298.9" x2="1171.4" y2="298.9" stroke="#3a3a9a" stroke-width="1"/>
<line x1="31.6" y1="289.2" x2="35.6" y2="289.2" stroke="#3a3a9a" stroke-width="1"/>
<line x1="1057.7" y1="289.2" x2="1053.7" y2="289.2" stroke="#3a3a9a" stroke-width="1"/>
<line x1="1119.8" y1="289.2" x2="1123.8" y2="289.2" stroke="#3a3a9a" stroke-width="1"/>
<line x1="1175.4" y1="289.2" x2="1171.4" y2="289.2" stroke="#3a3a9a" stroke-width="1"/>
<line x1="31.6" y1="279.5" x2="36.6" y2="279.5" stroke="#2525c0" stroke-width="2"/>
<line x1="1057.7" y1="279.5" x2="1052.7" y2="279.5" stroke="#2525c0" stroke-width="2"/>
<line x1="1119.8" y1="279.5" x2="1124.8" y2="279.5" stroke="#2525c0" stroke-width="2"/>
<line x1="1175.4" y1="279.5" x2="1170.4" y2="279.5" stroke="#2525c0" stroke-width="2"/>
<line x1="31.6" y1="276" x2="31.6" y2="278" stroke="#6060d0" stroke-width="1.3"/>
<line x1="31.6" y1="714.85" x2="31.6" y2="711.85" stroke="#404070" stroke-width="1"/>
<line x1="42.3" y1="276" x2="42.3" y2="278" stroke="#6060d0" stroke-width="1.3"/>
<line x1="42.3" y1="714.85" x2="42.3" y2="711.85" stroke="#404070" stroke-width="1"/>
<line x1="53.0" y1="276" x2="53.0" y2="278" stroke="#6060d0" stroke-width="1.3"/>
<line x1="53.0" y1="714.85" x2="53.0" y2="711.85" stroke="#404070" stroke-width="1"/>
<line x1="63.7" y1="276" x2="63.7" y2="278" stroke="#6060d0" stroke-width="1.3"/>
<line x1="63.7" y1="714.85" x2="63.7" y2="711.85" stroke="#404070" stroke-width="1"/>
<line x1="74.4" y1="275.5" x2="74.4" y2="280" stroke="#1a1a90" stroke-width="2"/>
<line x1="74.4" y1="714.85" x2="74.4" y2="708.85" stroke="#2a2ab0" stroke-width="2"/>
<line x1="85.1" y1="276" x2="85.1" y2="278" stroke="#6060d0" stroke-width="1.3"/>
<line x1="85.1" y1="714.85" x2="85.1" y2="711.85" stroke="#404070" stroke-width="1"/>
<line x1="95.8" y1="276" x2="95.8" y2="278" stroke="#6060d0" stroke-width="1.3"/>
<line x1="95.8" y1="714.85" x2="95.8" y2="711.85" stroke="#404070" stroke-width="1"/>
<line x1="106.5" y1="276" x2="106.5" y2="278" stroke="#6060d0" stroke-width="1.3"/>
<line x1="106.5" y1="714.85" x2="106.5" y2="711.85" stroke="#404070" stroke-width="1"/>
<line x1="117.2" y1="276" x2="117.2" y2="278" stroke="#6060d0" stroke-width="1.3"/>
<line x1="117.2" y1="714.85" x2="117.2" y2="711.85" stroke="#404070" stroke-width="1"/>
<line x1="127.9" y1="276" x2="127.9" y2="278" stroke="#6060d0" stroke-width="1.3"/>
<line x1="127.9" y1="714.85" x2="127.9" y2="711.85" stroke="#404070" stroke-width="1"/>
<line x1="138.6" y1="276" x2="138.6" y2="278" stroke="#6060d0" stroke-width="1.3"/>
<line x1="138.6" y1="714.85" x2="138.6" y2="711.85" stroke="#404070" stroke-width="1"/>
<line x1="149.2" y1="276" x2="149.2" y2="278" stroke="#6060d0" stroke-width="1.3"/>
<line x1="149.2" y1="714.85" x2="149.2" y2="711.85" stroke="#404070" stroke-width="1"/>
<line x1="159.9" y1="276" x2="159.9" y2="278" stroke="#6060d0" stroke-width="1.3"/>
<line x1="159.9" y1="714.85" x2="159.9" y2="711.85" stroke="#404070" stroke-width="1"/>
<line x1="170.6" y1="276" x2="170.6" y2="278" stroke="#6060d0" stroke-width="1.3"/>
<line x1="170.6" y1="714.85" x2="170.6" y2="711.85" stroke="#404070" stroke-width="1"/>
<line x1="181.3" y1="276" x2="181.3" y2="278" stroke="#6060d0" stroke-width="1.3"/>
<line x1="181.3" y1="714.85" x2="181.3" y2="711.85" stroke="#404070" stroke-width="1"/>
<line x1="192.0" y1="276" x2="192.0" y2="278" stroke="#6060d0" stroke-width="1.3"/>
<line x1="192.0" y1="714.85" x2="192.0" y2="711.85" stroke="#404070" stroke-width="1"/>
<line x1="202.7" y1="275.5" x2="202.7" y2="280" stroke="#1a1a90" stroke-width="2"/>
<line x1="202.7" y1="714.85" x2="202.7" y2="708.85" stroke="#2a2ab0" stroke-width="2"/>
<line x1="213.4" y1="276" x2="213.4" y2="278" stroke="#6060d0" stroke-width="1.3"/>
<line x1="213.4" y1="714.85" x2="213.4" y2="711.85" stroke="#404070" stroke-width="1"/>
<line x1="224.1" y1="276" x2="224.1" y2="278" stroke="#6060d0" stroke-width="1.3"/>
<line x1="224.1" y1="714.85" x2="224.1" y2="711.85" stroke="#404070" stroke-width="1"/>
<line x1="234.8" y1="276" x2="234.8" y2="278" stroke="#6060d0" stroke-width="1.3"/>
<line x1="234.8" y1="714.85" x2="234.8" y2="711.85" stroke="#404070" stroke-width="1"/>
<line x1="245.5" y1="276" x2="245.5" y2="278" stroke="#6060d0" stroke-width="1.3"/>
<line x1="245.5" y1="714.85" x2="245.5" y2="711.85" stroke="#404070" stroke-width="1"/>
<line x1="256.2" y1="276" x2="256.2" y2="278" stroke="#6060d0" stroke-width="1.3"/>
<line x1="256.2" y1="714.85" x2="256.2" y2="711.85" stroke="#404070" stroke-width="1"/>
<line x1="266.9" y1="276" x2="266.9" y2="278" stroke="#6060d0" stroke-width="1.3"/>
<line x1="266.9" y1="714.85" x2="266.9" y2="711.85" stroke="#404070" stroke-width="1"/>
<line x1="277.6" y1="276" x2="277.6" y2="278" stroke="#6060d0" stroke-width="1.3"/>
<line x1="277.6" y1="714.85" x2="277.6" y2="711.85" stroke="#404070" stroke-width="1"/>
<line x1="288.3" y1="276" x2="288.3" y2="278" stroke="#6060d0" stroke-width="1.3"/>
<line x1="288.3" y1="714.85" x2="288.3" y2="711.85" stroke="#404070" stroke-width="1"/>
<line x1="299.0" y1="276" x2="299.0" y2="278" stroke="#6060d0" stroke-width="1.3"/>
<line x1="299.0" y1="714.85" x2="299.0" y2="711.85" stroke="#404070" stroke-width="1"/>
<line x1="309.7" y1="276" x2="309.7" y2="278" stroke="#6060d0" stroke-width="1.3"/>
<line x1="309.7" y1="714.85" x2="309.7" y2="711.85" stroke="#404070" stroke-width="1"/>
<line x1="320.4" y1="276" x2="320.4" y2="278" stroke="#6060d0" stroke-width="1.3"/>
<line x1="320.4" y1="714.85" x2="320.4" y2="711.85" stroke="#404070" stroke-width="1"/>
<line x1="331.1" y1="275.5" x2="331.1" y2="280" stroke="#1a1a90" stroke-width="2"/>
<line x1="331.1" y1="714.85" x2="331.1" y2="708.85" stroke="#2a2ab0" stroke-width="2"/>
<line x1="341.8" y1="276" x2="341.8" y2="278" stroke="#6060d0" stroke-width="1.3"/>
<line x1="341.8" y1="714.85" x2="341.8" y2="711.85" stroke="#404070" stroke-width="1"/>
<line x1="352.5" y1="276" x2="352.5" y2="278" stroke="#6060d0" stroke-width="1.3"/>
<line x1="352.5" y1="714.85" x2="352.5" y2="711.85" stroke="#404070" stroke-width="1"/>
<line x1="363.1" y1="276" x2="363.1" y2="278" stroke="#6060d0" stroke-width="1.3"/>
<line x1="363.1" y1="714.85" x2="363.1" y2="711.85" stroke="#404070" stroke-width="1"/>
<line x1="373.8" y1="276" x2="373.8" y2="278" stroke="#6060d0" stroke-width="1.3"/>
<line x1="373.8" y1="714.85" x2="373.8" y2="711.85" stroke="#404070" stroke-width="1"/>
<line x1="384.5" y1="276" x2="384.5" y2="278" stroke="#6060d0" stroke-width="1.3"/>
<line x1="384.5" y1="714.85" x2="384.5" y2="711.85" stroke="#404070" stroke-width="1"/>
<line x1="395.2" y1="276" x2="395.2" y2="278" stroke="#6060d0" stroke-width="1.3"/>
<line x1="395.2" y1="714.85" x2="395.2" y2="711.85" stroke="#404070" stroke-width="1"/>
<line x1="405.9" y1="276" x2="405.9" y2="278" stroke="#6060d0" stroke-width="1.3"/>
<line x1="405.9" y1="714.85" x2="405.9" y2="711.85" stroke="#404070" stroke-width="1"/>
<line x1="416.6" y1="276" x2="416.6" y2="278" stroke="#6060d0" stroke-width="1.3"/>
<line x1="416.6" y1="714.85" x2="416.6" y2="711.85" stroke="#404070" stroke-width="1"/>
<line x1="427.3" y1="276" x2="427.3" y2="278" stroke="#6060d0" stroke-width="1.3"/>
<line x1="427.3" y1="714.85" x2="427.3" y2="711.85" stroke="#404070" stroke-width="1"/>
<line x1="438.0" y1="276" x2="438.0" y2="278" stroke="#6060d0" stroke-width="1.3"/>
<line x1="438.0" y1="714.85" x2="438.0" y2="711.85" stroke="#404070" stroke-width="1"/>
<line x1="448.7" y1="276" x2="448.7" y2="278" stroke="#6060d0" stroke-width="1.3"/>
<line x1="448.7" y1="714.85" x2="448.7" y2="711.85" stroke="#404070" stroke-width="1"/>
<line x1="459.4" y1="275.5" x2="459.4" y2="280" stroke="#1a1a90" stroke-width="2"/>
<line x1="459.4" y1="714.85" x2="459.4" y2="708.85" stroke="#2a2ab0" stroke-width="2"/>
<line x1="470.1" y1="276" x2="470.1" y2="278" stroke="#6060d0" stroke-width="1.3"/>
<line x1="470.1" y1="714.85" x2="470.1" y2="711.85" stroke="#404070" stroke-width="1"/>
<line x1="480.8" y1="276" x2="480.8" y2="278" stroke="#6060d0" stroke-width="1.3"/>
<line x1="480.8" y1="714.85" x2="480.8" y2="711.85" stroke="#404070" stroke-width="1"/>
<line x1="491.5" y1="276" x2="491.5" y2="278" stroke="#6060d0" stroke-width="1.3"/>
<line x1="491.5" y1="714.85" x2="491.5" y2="711.85" stroke="#404070" stroke-width="1"/>
<line x1="502.2" y1="276" x2="502.2" y2="278" stroke="#6060d0" stroke-width="1.3"/>
<line x1="502.2" y1="714.85" x2="502.2" y2="711.85" stroke="#404070" stroke-width="1"/>
<line x1="512.9" y1="276" x2="512.9" y2="278" stroke="#6060d0" stroke-width="1.3"/>
<line x1="512.9" y1="714.85" x2="512.9" y2="711.85" stroke="#404070" stroke-width="1"/>
<line x1="523.6" y1="276" x2="523.6" y2="278" stroke="#6060d0" stroke-width="1.3"/>
<line x1="523.6" y1="714.85" x2="523.6" y2="711.85" stroke="#404070" stroke-width="1"/>
<line x1="534.3" y1="276" x2="534.3" y2="278" stroke="#6060d0" stroke-width="1.3"/>
<line x1="534.3" y1="714.85" x2="534.3" y2="711.85" stroke="#404070" stroke-width="1"/>
<line x1="545.0" y1="276" x2="545.0" y2="278" stroke="#6060d0" stroke-width="1.3"/>
<line x1="545.0" y1="714.85" x2="545.0" y2="711.85" stroke="#404070" stroke-width="1"/>
<line x1="555.7" y1="276" x2="555.7" y2="278" stroke="#6060d0" stroke-width="1.3"/>
<line x1="555.7" y1="714.85" x2="555.7" y2="711.85" stroke="#404070" stroke-width="1"/>
<line x1="566.4" y1="276" x2="566.4" y2="278" stroke="#6060d0" stroke-width="1.3"/>
<line x1="566.4" y1="714.85" x2="566.4" y2="711.85" stroke="#404070" stroke-width="1"/>
<line x1="577.0" y1="276" x2="577.0" y2="278" stroke="#6060d0" stroke-width="1.3"/>
<line x1="577.0" y1="714.85" x2="577.0" y2="711.85" stroke="#404070" stroke-width="1"/>
<line x1="587.7" y1="275.5" x2="587.7" y2="280" stroke="#1a1a90" stroke-width="2"/>
<line x1="587.7" y1="714.85" x2="587.7" y2="708.85" stroke="#2a2ab0" stroke-width="2"/>
<line x1="598.4" y1="276" x2="598.4" y2="278" stroke="#6060d0" stroke-width="1.3"/>
<line x1="598.4" y1="714.85" x2="598.4" y2="711.85" stroke="#404070" stroke-width="1"/>
<line x1="609.1" y1="276" x2="609.1" y2="278" stroke="#6060d0" stroke-width="1.3"/>
<line x1="609.1" y1="714.85" x2="609.1" y2="711.85" stroke="#404070" stroke-width="1"/>
<line x1="619.8" y1="276" x2="619.8" y2="278" stroke="#6060d0" stroke-width="1.3"/>
<line x1="619.8" y1="714.85" x2="619.8" y2="711.85" stroke="#404070" stroke-width="1"/>
<line x1="630.5" y1="276" x2="630.5" y2="278" stroke="#6060d0" stroke-width="1.3"/>
<line x1="630.5" y1="714.85" x2="630.5" y2="711.85" stroke="#404070" stroke-width="1"/>
<line x1="641.2" y1="276" x2="641.2" y2="278" stroke="#6060d0" stroke-width="1.3"/>
<line x1="641.2" y1="714.85" x2="641.2" y2="711.85" stroke="#404070" stroke-width="1"/>
<line x1="651.9" y1="276" x2="651.9" y2="278" stroke="#6060d0" stroke-width="1.3"/>
<line x1="651.9" y1="714.85" x2="651.9" y2="711.85" stroke="#404070" stroke-width="1"/>
<line x1="662.6" y1="276" x2="662.6" y2="278" stroke="#6060d0" stroke-width="1.3"/>
<line x1="662.6" y1="714.85" x2="662.6" y2="711.85" stroke="#404070" stroke-width="1"/>
<line x1="673.3" y1="276" x2="673.3" y2="278" stroke="#6060d0" stroke-width="1.3"/>
<line x1="673.3" y1="714.85" x2="673.3" y2="711.85" stroke="#404070" stroke-width="1"/>
<line x1="684.0" y1="276" x2="684.0" y2="278" stroke="#6060d0" stroke-width="1.3"/>
<line x1="684.0" y1="714.85" x2="684.0" y2="711.85" stroke="#404070" stroke-width="1"/>
<line x1="694.7" y1="276" x2="694.7" y2="278" stroke="#6060d0" stroke-width="1.3"/>
<line x1="694.7" y1="714.85" x2="694.7" y2="711.85" stroke="#404070" stroke-width="1"/>
<line x1="705.4" y1="276" x2="705.4" y2="278" stroke="#6060d0" stroke-width="1.3"/>
<line x1="705.4" y1="714.85" x2="705.4" y2="711.85" stroke="#404070" stroke-width="1"/>
<line x1="716.1" y1="275.5" x2="716.1" y2="280" stroke="#1a1a90" stroke-width="2"/>
<line x1="716.1" y1="714.85" x2="716.1" y2="708.85" stroke="#2a2ab0" stroke-width="2"/>
<line x1="726.8" y1="276" x2="726.8" y2="278" stroke="#6060d0" stroke-width="1.3"/>
<line x1="726.8" y1="714.85" x2="726.8" y2="711.85" stroke="#404070" stroke-width="1"/>
<line x1="737.5" y1="276" x2="737.5" y2="278" stroke="#6060d0" stroke-width="1.3"/>
<line x1="737.5" y1="714.85" x2="737.5" y2="711.85" stroke="#404070" stroke-width="1"/>
<line x1="748.2" y1="276" x2="748.2" y2="278" stroke="#6060d0" stroke-width="1.3"/>
<line x1="748.2" y1="714.85" x2="748.2" y2="711.85" stroke="#404070" stroke-width="1"/>
<line x1="758.9" y1="276" x2="758.9" y2="278" stroke="#6060d0" stroke-width="1.3"/>
<line x1="758.9" y1="714.85" x2="758.9" y2="711.85" stroke="#404070" stroke-width="1"/>
<line x1="769.6" y1="276" x2="769.6" y2="278" stroke="#6060d0" stroke-width="1.3"/>
<line x1="769.6" y1="714.85" x2="769.6" y2="711.85" stroke="#404070" stroke-width="1"/>
<line x1="780.2" y1="276" x2="780.2" y2="278" stroke="#6060d0" stroke-width="1.3"/>
<line x1="780.2" y1="714.85" x2="780.2" y2="711.85" stroke="#404070" stroke-width="1"/>
<line x1="790.9" y1="276" x2="790.9" y2="278" stroke="#6060d0" stroke-width="1.3"/>
<line x1="790.9" y1="714.85" x2="790.9" y2="711.85" stroke="#404070" stroke-width="1"/>
<line x1="801.6" y1="276" x2="801.6" y2="278" stroke="#6060d0" stroke-width="1.3"/>
<line x1="801.6" y1="714.85" x2="801.6" y2="711.85" stroke="#404070" stroke-width="1"/>
<line x1="812.3" y1="276" x2="812.3" y2="278" stroke="#6060d0" stroke-width="1.3"/>
<line x1="812.3" y1="714.85" x2="812.3" y2="711.85" stroke="#404070" stroke-width="1"/>
<line x1="823.0" y1="276" x2="823.0" y2="278" stroke="#6060d0" stroke-width="1.3"/>
<line x1="823.0" y1="714.85" x2="823.0" y2="711.85" stroke="#404070" stroke-width="1"/>
<line x1="833.7" y1="276" x2="833.7" y2="278" stroke="#6060d0" stroke-width="1.3"/>
<line x1="833.7" y1="714.85" x2="833.7" y2="711.85" stroke="#404070" stroke-width="1"/>
<line x1="844.4" y1="275.5" x2="844.4" y2="280" stroke="#1a1a90" stroke-width="2"/>
<line x1="844.4" y1="714.85" x2="844.4" y2="708.85" stroke="#2a2ab0" stroke-width="2"/>
<line x1="855.1" y1="276" x2="855.1" y2="278" stroke="#6060d0" stroke-width="1.3"/>
<line x1="855.1" y1="714.85" x2="855.1" y2="711.85" stroke="#404070" stroke-width="1"/>
<line x1="865.8" y1="276" x2="865.8" y2="278" stroke="#6060d0" stroke-width="1.3"/>
<line x1="865.8" y1="714.85" x2="865.8" y2="711.85" stroke="#404070" stroke-width="1"/>
<line x1="876.5" y1="276" x2="876.5" y2="278" stroke="#6060d0" stroke-width="1.3"/>
<line x1="876.5" y1="714.85" x2="876.5" y2="711.85" stroke="#404070" stroke-width="1"/>
<line x1="887.2" y1="276" x2="887.2" y2="278" stroke="#6060d0" stroke-width="1.3"/>
<line x1="887.2" y1="714.85" x2="887.2" y2="711.85" stroke="#404070" stroke-width="1"/>
<line x1="897.9" y1="276" x2="897.9" y2="278" stroke="#6060d0" stroke-width="1.3"/>
<line x1="897.9" y1="714.85" x2="897.9" y2="711.85" stroke="#404070" stroke-width="1"/>
<line x1="908.6" y1="276" x2="908.6" y2="278" stroke="#6060d0" stroke-width="1.3"/>
<line x1="908.6" y1="714.85" x2="908.6" y2="711.85" stroke="#404070" stroke-width="1"/>
<line x1="919.3" y1="276" x2="919.3" y2="278" stroke="#6060d0" stroke-width="1.3"/>
<line x1="919.3" y1="714.85" x2="919.3" y2="711.85" stroke="#404070" stroke-width="1"/>
<line x1="930.0" y1="276" x2="930.0" y2="278" stroke="#6060d0" stroke-width="1.3"/>
<line x1="930.0" y1="714.85" x2="930.0" y2="711.85" stroke="#404070" stroke-width="1"/>
<line x1="940.7" y1="276" x2="940.7" y2="278" stroke="#6060d0" stroke-width="1.3"/>
<line x1="940.7" y1="714.85" x2="940.7" y2="711.85" stroke="#404070" stroke-width="1"/>
<line x1="951.4" y1="276" x2="951.4" y2="278" stroke="#6060d0" stroke-width="1.3"/>
<line x1="951.4" y1="714.85" x2="951.4" y2="711.85" stroke="#404070" stroke-width="1"/>
<line x1="962.1" y1="276" x2="962.1" y2="278" stroke="#6060d0" stroke-width="1.3"/>
<line x1="962.1" y1="714.85" x2="962.1" y2="711.85" stroke="#404070" stroke-width="1"/>
<line x1="972.8" y1="275.5" x2="972.8" y2="280" stroke="#1a1a90" stroke-width="2"/>
<line x1="972.8" y1="714.85" x2="972.8" y2="708.85" stroke="#2a2ab0" stroke-width="2"/>
<line x1="983.5" y1="276" x2="983.5" y2="278" stroke="#6060d0" stroke-width="1.3"/>
<line x1="983.5" y1="714.85" x2="983.5" y2="711.85" stroke="#404070" stroke-width="1"/>
<line x1="994.2" y1="276" x2="994.2" y2="278" stroke="#6060d0" stroke-width="1.3"/>
<line x1="994.2" y1="714.85" x2="994.2" y2="711.85" stroke="#404070" stroke-width="1"/>
<line x1="1004.8" y1="276" x2="1004.8" y2="278" stroke="#6060d0" stroke-width="1.3"/>
<line x1="1004.8" y1="714.85" x2="1004.8" y2="711.85" stroke="#404070" stroke-width="1"/>
<line x1="1015.5" y1="276" x2="1015.5" y2="278" stroke="#6060d0" stroke-width="1.3"/>
<line x1="1015.5" y1="714.85" x2="1015.5" y2="711.85" stroke="#404070" stroke-width="1"/>
<line x1="1026.2" y1="276" x2="1026.2" y2="278" stroke="#6060d0" stroke-width="1.3"/>
<line x1="1026.2" y1="714.85" x2="1026.2" y2="711.85" stroke="#404070" stroke-width="1"/>
<line x1="1036.9" y1="276" x2="1036.9" y2="278" stroke="#6060d0" stroke-width="1.3"/>
<line x1="1036.9" y1="714.85" x2="1036.9" y2="711.85" stroke="#404070" stroke-width="1"/>
<line x1="1047.6" y1="276" x2="1047.6" y2="278" stroke="#6060d0" stroke-width="1.3"/>
<line x1="1047.6" y1="714.85" x2="1047.6" y2="711.85" stroke="#404070" stroke-width="1"/>
<line x1="1058.3" y1="276" x2="1058.3" y2="278" stroke="#6060d0" stroke-width="1.3"/>
<line x1="1058.3" y1="714.85" x2="1058.3" y2="711.85" stroke="#404070" stroke-width="1"/>
<line x1="31.6" y1="714.5" x2="1057.7" y2="714.5" stroke="#333" stroke-width="2"/>
<path d="M31.8,714.0 L500.6,714.0 L503.5,593.3 L553.0,591.6 L795.9,590.5 L796.8,714.0 L1057.7,714.0" fill="none" stroke="#1f66d9" stroke-width="2.6" stroke-dasharray="5,3"/>
<rect x="1120" y="381.5" width="55.4" height="296.7" fill="rgba(30,127,11,0.32)"/>
<line x1="1120" y1="381.5" x2="1175.4" y2="381.5" stroke="#1b8a1b" stroke-width="2.4"/>
<line x1="1120" y1="678.2" x2="1175.4" y2="678.2" stroke="#c41616" stroke-width="2"/>
<line x1="1120" y1="541.2" x2="1175.4" y2="541.2" stroke="#2f8a2f" stroke-width="1" stroke-dasharray="6,2,1.5,2"/>
<line x1="1120" y1="554.4" x2="1175.4" y2="554.4" stroke="#2f8a2f" stroke-width="1" stroke-dasharray="6,3"/>
<line x1="1122" y1="700.8" x2="1175.4" y2="700.8" stroke="#e0707e" stroke-width="2" stroke-dasharray="8,4"/>
<line x1="1120" y1="712.5" x2="1175.4" y2="712.5" stroke="#1f66d9" stroke-width="2.6" stroke-dasharray="5,3"/>
<line x1="1119.8" y1="276" x2="1119.8" y2="715.35" stroke="#222244" stroke-width="1.3"/>
<line x1="1175.4" y1="276" x2="1175.4" y2="715.35" stroke="#222244" stroke-width="1.3"/>
<line x1="1119.8" y1="714.85" x2="1175.4" y2="714.85" stroke="#333" stroke-width="1.2"/>
<rect x="32" y="714.3" width="555.8" height="13.4" fill="#e6e6f2"/>
<rect x="587.8" y="714.3" width="469.9" height="13.4" fill="#dadaea"/>
<line x1="31.6" y1="728" x2="1057.7" y2="728" stroke="#555" stroke-width="1.5"/>
<line x1="31.6" y1="714" x2="31.6" y2="728.6" stroke="#333" stroke-width="1.3"/>
<line x1="1057.7" y1="714" x2="1057.7" y2="728.6" stroke="#333" stroke-width="1.3"/>
<line x1="587.8" y1="714" x2="587.8" y2="728.6" stroke="#333" stroke-width="2"/>
<rect x="32.9" y="715" width="10.5" height="12" fill="#fff" stroke="#111" stroke-width="1.2"/>
<rect x="45.3" y="715" width="10.5" height="12" fill="#fff" stroke="#111" stroke-width="1.2"/>
<path d="M35.5,717.5 V724.5 M36.5,721 L42,717.5 L42,724.5 Z" fill="#111" stroke="#111" stroke-width="1"/>
<path d="M47.5,721 L53.5,717.5 L53.5,724.5 Z" fill="#111"/>
<rect x="1034" y="715" width="10.5" height="12" fill="#fff" stroke="#111" stroke-width="1.2"/>
<rect x="1045.8" y="715" width="10.5" height="12" fill="#fff" stroke="#111" stroke-width="1.2"/>
<path d="M1036.5,717.5 L1042.5,721 L1036.5,724.5 Z" fill="#111"/>
<path d="M1048,717.5 L1053.5,721 L1048,724.5 Z M1054,717.5 V724.5" fill="#111" stroke="#111" stroke-width="1"/>
<rect x="34.3" y="281" width="21" height="21" fill="#fff" stroke="#111" stroke-width="2"/>
<path d="M38.5,286.5 L51,286.5 L44.75,295.5 Z" fill="none" stroke="#111" stroke-width="1.8" stroke-linejoin="miter"/>
<path d="M521.5,571.8 L521.5,586.2 L525,583 L527.6,588.2 L529.6,587.2 L527.2,582.2 L531.6,582 Z" fill="#fff" stroke="#111" stroke-width="1.2" stroke-linejoin="miter"/>
</svg>
<div class="t" style="left:1076.5px;top:705.41px;font-size:10.5px;font-weight:700;color:#111;">0 kW</div>
<div class="t" style="left:1076.5px;top:657.26px;font-size:10.5px;font-weight:700;color:#111;">1 kW</div>
<div class="t" style="left:1076.5px;top:609.11px;font-size:10.5px;font-weight:700;color:#111;">2 kW</div>
<div class="t" style="left:1076.5px;top:560.96px;font-size:10.5px;font-weight:700;color:#111;">3 kW</div>
<div class="t" style="left:1076.5px;top:512.81px;font-size:10.5px;font-weight:700;color:#111;">4 kW</div>
<div class="t" style="left:1076.5px;top:464.66px;font-size:10.5px;font-weight:700;color:#111;">5 kW</div>
<div class="t" style="left:1076.5px;top:416.51px;font-size:10.5px;font-weight:700;color:#111;">6 kW</div>
<div class="t" style="left:1076.5px;top:368.36px;font-size:10.5px;font-weight:700;color:#111;">7 kW</div>
<div class="t" style="left:1076.5px;top:320.21px;font-size:10.5px;font-weight:700;color:#111;">8 kW</div>
<div class="t" style="left:1076.5px;top:272.06px;font-size:10.5px;font-weight:700;color:#111;">9 kW</div>
<div class="t" style="left:1140.5px;top:369.28px;font-size:10.3px;font-weight:700;color:#3a9a3a;">6.881</div>
<div class="t" style="left:1140.4px;top:682.28px;font-size:10.3px;font-weight:700;color:#c02030;">0.746</div>
<div class="t" style="left:1123.3px;top:718.03px;font-size:10.6px;font-weight:700;color:#222;">Current</div>
<div class="t" style="left:75.17999999999999px;top:734.48px;font-size:10.3px;font-weight:700;color:#111;">12pm</div>
<div class="t" style="left:203.52px;top:734.48px;font-size:10.3px;font-weight:700;color:#111;">3pm</div>
<div class="t" style="left:331.86000000000007px;top:734.48px;font-size:10.3px;font-weight:700;color:#111;">6pm</div>
<div class="t" style="left:460.20000000000005px;top:734.48px;font-size:10.3px;font-weight:700;color:#111;">9pm</div>
<div class="t" style="left:588.54px;top:734.48px;font-size:10.3px;font-weight:700;color:#111;">12am</div>
<div class="t" style="left:716.88px;top:734.48px;font-size:10.3px;font-weight:700;color:#111;">3am</div>
<div class="t" style="left:845.22px;top:734.48px;font-size:10.3px;font-weight:700;color:#111;">6am</div>
<div class="t" style="left:973.5600000000001px;top:734.48px;font-size:10.3px;font-weight:700;color:#111;">9am</div>
<div class="t" style="left:58.6px;top:716.57px;font-size:10.2px;font-weight:700;color:#111;">Jun 9</div>
<div class="t" style="left:592.2px;top:716.97px;font-size:10.2px;font-weight:700;color:#111;">Tue Jun 10</div>
<div class="a" style="left:542.6px;top:270px;width:159px;height:110px;background:rgba(0,0,0,0.35);filter:blur(1.5px)"></div>
<div class="a" style="left:539.6px;top:267px;width:159px;height:111.3px;box-sizing:border-box;background:#f6f09a;border:1px solid #2a2a1a"></div>
<div class="t" style="left:542.9px;top:267.83px;font-size:10.6px;font-weight:700;color:#222;">06/09/14 10:26:00pm</div>
<div class="a" style="left:556px;top:280.5px;width:140.5px;height:11.8px;background:#ece69a"></div>
<div class="t" style="left:560.3px;top:282.06px;font-size:9.5px;font-weight:400;color:#d2421e;">Usage</div>
<div class="t" style="right:528.4px;top:281.64px;font-size:10px;letter-spacing:-0.6px;color:#222">1.14</div>
<div class="t" style="left:681px;top:281.64px;font-size:10px;font-weight:400;color:#222;letter-spacing:-0.3px">kW</div>
<div class="t" style="left:560.3px;top:294.13px;font-size:9.5px;font-weight:400;color:#49b232;">Generation</div>
<div class="t" style="right:528.4px;top:293.71px;font-size:10px;letter-spacing:-0.6px;color:#222">0.00</div>
<div class="t" style="left:681px;top:293.71px;font-size:10px;font-weight:400;color:#222;letter-spacing:-0.3px">W</div>
<div class="a" style="left:556px;top:304.6px;width:140.5px;height:11.8px;background:#ece69a"></div>
<div class="t" style="left:560.3px;top:306.20px;font-size:9.5px;font-weight:400;color:#333;">Comp Closet #1</div>
<div class="t" style="right:528.4px;top:305.78px;font-size:10px;letter-spacing:-0.6px;color:#d2421e">145.00</div>
<div class="t" style="left:681px;top:305.78px;font-size:10px;font-weight:400;color:#d2421e;letter-spacing:-0.3px">W</div>
<div class="t" style="left:560.3px;top:318.27px;font-size:9.5px;font-weight:400;color:#333;">EV Charging</div>
<div class="t" style="right:528.4px;top:317.85px;font-size:10px;letter-spacing:-0.6px;color:#222">2.51</div>
<div class="t" style="left:681px;top:317.85px;font-size:10px;font-weight:400;color:#222;letter-spacing:-0.3px">kW</div>
<div class="a" style="left:556px;top:328.8px;width:140.5px;height:11.8px;background:#ece69a"></div>
<div class="t" style="left:560.3px;top:330.34px;font-size:9.5px;font-weight:400;color:#333;">Mech Room</div>
<div class="t" style="right:528.4px;top:329.92px;font-size:10px;letter-spacing:-0.6px;color:#d2421e">285.00</div>
<div class="t" style="left:681px;top:329.92px;font-size:10px;font-weight:400;color:#d2421e;letter-spacing:-0.3px">W</div>
<div class="t" style="left:560.3px;top:342.41px;font-size:9.5px;font-weight:400;color:#333;">Oven</div>
<div class="t" style="right:528.4px;top:341.99px;font-size:10px;letter-spacing:-0.6px;color:#222">0.00</div>
<div class="t" style="left:681px;top:341.99px;font-size:10px;font-weight:400;color:#222;letter-spacing:-0.3px">W</div>
<div class="a" style="left:556px;top:352.9px;width:140.5px;height:11.8px;background:#ece69a"></div>
<div class="t" style="left:560.3px;top:354.48px;font-size:9.5px;font-weight:400;color:#333;">Solar SPR</div>
<div class="t" style="right:528.4px;top:354.06px;font-size:10px;letter-spacing:-0.6px;color:#d2421e">3.00</div>
<div class="t" style="left:681px;top:354.06px;font-size:10px;font-weight:400;color:#d2421e;letter-spacing:-0.3px">W</div>
<div class="t" style="left:560.3px;top:366.55px;font-size:9.5px;font-weight:400;color:#333;">Solar Tigo+SPR</div>
<div class="t" style="right:528.4px;top:366.13px;font-size:10px;letter-spacing:-0.6px;color:#d2421e">4.00</div>
<div class="t" style="left:681px;top:366.13px;font-size:10px;font-weight:400;color:#d2421e;letter-spacing:-0.3px">W</div>
<div class="a" style="left:38px;top:752.7px;width:1133.8px;height:75.2px;box-sizing:border-box;border:4px solid #0c7fc5;border-top-width:4.3px;background:#fff"></div>
<div class="a" style="left:42px;top:779px;width:1126px;height:1px;background:#6f9ebe"></div>
<div class="a" style="left:42px;top:801.4px;width:1126px;height:1px;background:#6f9ebe"></div>
<div class="a" style="left:322px;top:757px;width:1px;height:67px;background:#6f9ebe"></div>
<div class="a" style="left:605px;top:757px;width:1px;height:67px;background:#6f9ebe"></div>
<div class="a" style="left:888px;top:757px;width:1px;height:67px;background:#6f9ebe"></div>
<div class="a" style="left:48.5px;top:762px;width:10.5px;height:10.5px;box-sizing:border-box;border:1px solid #9a9a9a;border-radius:2px;background:linear-gradient(#fdfdfd,#dcdcdc)"></div><svg class="a" style="left:48.5px;top:762px" width="11" height="11"><path d="M2.3,5.5 L4.5,8.3 L8.8,2" fill="none" stroke="#222" stroke-width="1.7"/></svg>
<div class="a" style="left:62.7px;top:766px;width:27px;height:2px;background:#d22a2a"></div>
<div class="t" style="left:93.2px;top:766.34px;font-size:9.4px;font-weight:400;color:#222;">Power used</div>
<div class="a" style="left:328.5px;top:762px;width:10.5px;height:10.5px;box-sizing:border-box;border:1px solid #9a9a9a;border-radius:2px;background:linear-gradient(#fdfdfd,#dcdcdc)"></div><svg class="a" style="left:328.5px;top:762px" width="11" height="11"><path d="M2.3,5.5 L4.5,8.3 L8.8,2" fill="none" stroke="#222" stroke-width="1.7"/></svg>
<div class="a" style="left:343.5px;top:760.3px;width:27.5px;height:13px;background:#f2b5b7"></div>
<div class="t" style="left:373.8px;top:766.34px;font-size:9.4px;font-weight:400;color:#222;">Energy from grid</div>
<div class="a" style="left:611.5px;top:762px;width:10.5px;height:10.5px;box-sizing:border-box;border:1px solid #9a9a9a;border-radius:2px;background:linear-gradient(#fdfdfd,#dcdcdc)"></div><svg class="a" style="left:611.5px;top:762px" width="11" height="11"><path d="M2.3,5.5 L4.5,8.3 L8.8,2" fill="none" stroke="#222" stroke-width="1.7"/></svg>
<div class="a" style="left:625.7px;top:766px;width:28px;height:2px;background:#2e9a2e"></div>
<div class="t" style="left:656.4px;top:766.34px;font-size:9.4px;font-weight:400;color:#222;">Power generated</div>
<div class="a" style="left:894.5px;top:762px;width:10.5px;height:10.5px;box-sizing:border-box;border:1px solid #9a9a9a;border-radius:2px;background:linear-gradient(#fdfdfd,#dcdcdc)"></div><svg class="a" style="left:894.5px;top:762px" width="11" height="11"><path d="M2.3,5.5 L4.5,8.3 L8.8,2" fill="none" stroke="#222" stroke-width="1.7"/></svg>
<div class="a" style="left:908.6px;top:760.2px;width:27.5px;height:13.1px;background:#b4d8af"></div>
<div class="t" style="left:939.5px;top:766.34px;font-size:9.4px;font-weight:400;color:#222;">Energy to grid</div>
<div class="a" style="left:48.5px;top:785.3px;width:10.5px;height:10.5px;box-sizing:border-box;border:1px solid #9a9a9a;border-radius:2px;background:linear-gradient(#fdfdfd,#dcdcdc)"></div><svg class="a" style="left:48.5px;top:785.3px" width="11" height="11"><path d="M2.3,5.5 L4.5,8.3 L8.8,2" fill="none" stroke="#222" stroke-width="1.7"/></svg>
<div class="a" style="left:62.7px;top:786px;width:11.0px;height:2px;background:#86c486"></div>
<div class="a" style="left:62.7px;top:791px;width:11.0px;height:2px;background:#dc8a96"></div>
<div class="a" style="left:76.3px;top:786px;width:11.4px;height:2px;background:#86c486"></div>
<div class="a" style="left:76.3px;top:791px;width:11.4px;height:2px;background:#dc8a96"></div>
<div class="t" style="left:93.2px;top:788.44px;font-size:9.4px;font-weight:400;color:#222;">Mech Room <span style="color:#2e9a2e">gen.</span><span style="color:#222">/</span><span style="color:#cc2030">use</span></div>
<div class="a" style="left:328.5px;top:785.3px;width:10.5px;height:10.5px;box-sizing:border-box;border:1px solid #9a9a9a;border-radius:2px;background:linear-gradient(#fdfdfd,#dcdcdc)"></div>
<div class="a" style="left:342.7px;top:786px;width:9.5px;height:2px;background:#86c486"></div>
<div class="a" style="left:342.7px;top:791px;width:9.5px;height:2px;background:#dc8a96"></div>
<div class="a" style="left:355.2px;top:786px;width:2.0px;height:2px;background:#86c486"></div>
<div class="a" style="left:355.2px;top:791px;width:2.0px;height:2px;background:#dc8a96"></div>
<div class="a" style="left:360.2px;top:786px;width:9.5px;height:2px;background:#86c486"></div>
<div class="a" style="left:360.2px;top:791px;width:9.5px;height:2px;background:#dc8a96"></div>
<div class="t" style="left:373.2px;top:788.44px;font-size:9.4px;font-weight:400;color:#222;">Oven <span style="color:#2e9a2e">gen.</span><span style="color:#222">/</span><span style="color:#cc2030">use</span></div>
<div class="a" style="left:611.5px;top:785.3px;width:10.5px;height:10.5px;box-sizing:border-box;border:1px solid #9a9a9a;border-radius:2px;background:linear-gradient(#fdfdfd,#dcdcdc)"></div>
<div class="a" style="left:625.7px;top:786px;width:4.5px;height:1.6px;background:#a8d4a8"></div>
<div class="a" style="left:625.7px;top:791px;width:4.5px;height:1.6px;background:#e4a8b0"></div>
<div class="a" style="left:632.7px;top:786px;width:4.5px;height:1.6px;background:#a8d4a8"></div>
<div class="a" style="left:632.7px;top:791px;width:4.5px;height:1.6px;background:#e4a8b0"></div>
<div class="a" style="left:639.7px;top:786px;width:4.5px;height:1.6px;background:#a8d4a8"></div>
<div class="a" style="left:639.7px;top:791px;width:4.5px;height:1.6px;background:#e4a8b0"></div>
<div class="a" style="left:646.7px;top:786px;width:4.5px;height:1.6px;background:#a8d4a8"></div>
<div class="a" style="left:646.7px;top:791px;width:4.5px;height:1.6px;background:#e4a8b0"></div>
<div class="t" style="left:656.2px;top:788.44px;font-size:9.4px;font-weight:400;color:#222;">Comp Closet #1 <span style="color:#2e9a2e">gen.</span><span style="color:#222">/</span><span style="color:#cc2030">use</span></div>
<div class="a" style="left:894.5px;top:785.3px;width:10.5px;height:10.5px;box-sizing:border-box;border:1px solid #9a9a9a;border-radius:2px;background:linear-gradient(#fdfdfd,#dcdcdc)"></div><svg class="a" style="left:894.5px;top:785.3px" width="11" height="11"><path d="M2.3,5.5 L4.5,8.3 L8.8,2" fill="none" stroke="#222" stroke-width="1.7"/></svg>
<div class="a" style="left:908.7px;top:786px;width:4.5px;height:1.2px;background:#70b870"></div>
<div class="a" style="left:908.2px;top:790px;width:5.2px;height:2.6px;background:#1f5fd0"></div>
<div class="a" style="left:915.7px;top:786px;width:4.5px;height:1.2px;background:#70b870"></div>
<div class="a" style="left:915.2px;top:790px;width:5.2px;height:2.6px;background:#1f5fd0"></div>
<div class="a" style="left:922.7px;top:786px;width:4.5px;height:1.2px;background:#70b870"></div>
<div class="a" style="left:922.2px;top:790px;width:5.2px;height:2.6px;background:#1f5fd0"></div>
<div class="a" style="left:929.7px;top:786px;width:4.5px;height:1.2px;background:#70b870"></div>
<div class="a" style="left:929.2px;top:790px;width:5.2px;height:2.6px;background:#1f5fd0"></div>
<div class="t" style="left:939.2px;top:788.44px;font-size:9.4px;font-weight:400;color:#222;">EV Charging <span style="color:#2e9a2e">gen.</span><span style="color:#222">/</span><span style="color:#222">use</span></div>
<div class="a" style="left:48.5px;top:807.8px;width:10.5px;height:10.5px;box-sizing:border-box;border:1px solid #9a9a9a;border-radius:2px;background:linear-gradient(#fdfdfd,#dcdcdc)"></div><svg class="a" style="left:48.5px;top:807.8px" width="11" height="11"><path d="M2.3,5.5 L4.5,8.3 L8.8,2" fill="none" stroke="#222" stroke-width="1.7"/></svg>
<div class="a" style="left:62.7px;top:809px;width:11.0px;height:2px;background:#86c486"></div>
<div class="a" style="left:62.7px;top:814px;width:11.0px;height:2px;background:#dc8a96"></div>
<div class="a" style="left:76.3px;top:809px;width:11.4px;height:2px;background:#86c486"></div>
<div class="a" style="left:76.3px;top:814px;width:11.4px;height:2px;background:#dc8a96"></div>
<div class="t" style="left:93.2px;top:810.84px;font-size:9.4px;font-weight:400;color:#222;">Solar SPR <span style="color:#2e9a2e">gen.</span><span style="color:#222">/</span><span style="color:#cc2030">use</span></div>
<div class="a" style="left:328.5px;top:807.8px;width:10.5px;height:10.5px;box-sizing:border-box;border:1px solid #9a9a9a;border-radius:2px;background:linear-gradient(#fdfdfd,#dcdcdc)"></div><svg class="a" style="left:328.5px;top:807.8px" width="11" height="11"><path d="M2.3,5.5 L4.5,8.3 L8.8,2" fill="none" stroke="#222" stroke-width="1.7"/></svg>
<div class="a" style="left:342.7px;top:809px;width:9.5px;height:2px;background:#86c486"></div>
<div class="a" style="left:342.7px;top:814px;width:9.5px;height:2px;background:#dc8a96"></div>
<div class="a" style="left:355.2px;top:809px;width:2.0px;height:2px;background:#86c486"></div>
<div class="a" style="left:355.2px;top:814px;width:2.0px;height:2px;background:#dc8a96"></div>
<div class="a" style="left:360.2px;top:809px;width:9.5px;height:2px;background:#86c486"></div>
<div class="a" style="left:360.2px;top:814px;width:9.5px;height:2px;background:#dc8a96"></div>
<div class="t" style="left:373.2px;top:810.84px;font-size:9.4px;font-weight:400;color:#222;">Solar Tigo+SPR <span style="color:#2e9a2e">gen.</span><span style="color:#222">/</span><span style="color:#cc2030">use</span></div>
<div class="a" style="left:611.5px;top:807.8px;width:10.5px;height:10.5px;box-sizing:border-box;border:1px solid #9a9a9a;border-radius:2px;background:linear-gradient(#fdfdfd,#dcdcdc)"></div>
<div class="t" style="left:625px;top:810.84px;font-size:9.4px;font-weight:400;color:#222;">Toggle all/none</div>
</body></html>
